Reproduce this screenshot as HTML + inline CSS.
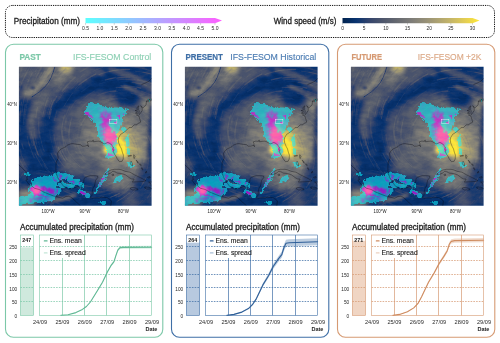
<!DOCTYPE html>
<html><head><meta charset="utf-8"><title>Ensemble storylines</title>
<style>html,body{margin:0;padding:0;background:#fff;}svg{display:block;font-family:"Liberation Sans", sans-serif;will-change:transform;}</style>
</head><body>
<svg width="500" height="343" viewBox="0 0 500 343">
<defs>
<linearGradient id="gp" x1="0" x2="1" y1="0" y2="0"><stop offset="0" stop-color="#5cffff"/><stop offset="0.5" stop-color="#acacff"/><stop offset="1" stop-color="#ff5cff"/></linearGradient>
<linearGradient id="gw" x1="0" x2="1" y1="0" y2="0"><stop offset="0.0" stop-color="#00224e"/><stop offset="0.1" stop-color="#083370"/><stop offset="0.2" stop-color="#35456c"/><stop offset="0.3" stop-color="#4f576c"/><stop offset="0.4" stop-color="#666970"/><stop offset="0.5" stop-color="#7d7c78"/><stop offset="0.6" stop-color="#948e77"/><stop offset="0.7" stop-color="#aea371"/><stop offset="0.8" stop-color="#c8b866"/><stop offset="0.9" stop-color="#e5cf52"/><stop offset="1.0" stop-color="#fee838"/></linearGradient>
<clipPath id="mclip"><rect x="0" y="0" width="132.7" height="138.9"/></clipPath>
<filter id="b0_4" filterUnits="userSpaceOnUse" x="-30" y="-30" width="195" height="200" color-interpolation-filters="sRGB"><feGaussianBlur stdDeviation="0.4"/></filter><filter id="b0_5" filterUnits="userSpaceOnUse" x="-30" y="-30" width="195" height="200" color-interpolation-filters="sRGB"><feGaussianBlur stdDeviation="0.5"/></filter><filter id="b0_6" filterUnits="userSpaceOnUse" x="-30" y="-30" width="195" height="200" color-interpolation-filters="sRGB"><feGaussianBlur stdDeviation="0.6"/></filter><filter id="b0_7" filterUnits="userSpaceOnUse" x="-30" y="-30" width="195" height="200" color-interpolation-filters="sRGB"><feGaussianBlur stdDeviation="0.7"/></filter><filter id="b0_8" filterUnits="userSpaceOnUse" x="-30" y="-30" width="195" height="200" color-interpolation-filters="sRGB"><feGaussianBlur stdDeviation="0.8"/></filter><filter id="b0_9" filterUnits="userSpaceOnUse" x="-30" y="-30" width="195" height="200" color-interpolation-filters="sRGB"><feGaussianBlur stdDeviation="0.9"/></filter><filter id="b1" filterUnits="userSpaceOnUse" x="-30" y="-30" width="195" height="200" color-interpolation-filters="sRGB"><feGaussianBlur stdDeviation="1.0"/></filter><filter id="b1_1" filterUnits="userSpaceOnUse" x="-30" y="-30" width="195" height="200" color-interpolation-filters="sRGB"><feGaussianBlur stdDeviation="1.1"/></filter><filter id="b1_2" filterUnits="userSpaceOnUse" x="-30" y="-30" width="195" height="200" color-interpolation-filters="sRGB"><feGaussianBlur stdDeviation="1.2"/></filter><filter id="b1_3" filterUnits="userSpaceOnUse" x="-30" y="-30" width="195" height="200" color-interpolation-filters="sRGB"><feGaussianBlur stdDeviation="1.3"/></filter><filter id="b1_4" filterUnits="userSpaceOnUse" x="-30" y="-30" width="195" height="200" color-interpolation-filters="sRGB"><feGaussianBlur stdDeviation="1.4"/></filter><filter id="b1_5" filterUnits="userSpaceOnUse" x="-30" y="-30" width="195" height="200" color-interpolation-filters="sRGB"><feGaussianBlur stdDeviation="1.5"/></filter><filter id="b1_6" filterUnits="userSpaceOnUse" x="-30" y="-30" width="195" height="200" color-interpolation-filters="sRGB"><feGaussianBlur stdDeviation="1.6"/></filter><filter id="b1_8" filterUnits="userSpaceOnUse" x="-30" y="-30" width="195" height="200" color-interpolation-filters="sRGB"><feGaussianBlur stdDeviation="1.8"/></filter><filter id="b2" filterUnits="userSpaceOnUse" x="-30" y="-30" width="195" height="200" color-interpolation-filters="sRGB"><feGaussianBlur stdDeviation="2.0"/></filter><filter id="b2_2" filterUnits="userSpaceOnUse" x="-30" y="-30" width="195" height="200" color-interpolation-filters="sRGB"><feGaussianBlur stdDeviation="2.2"/></filter><filter id="b2_5" filterUnits="userSpaceOnUse" x="-30" y="-30" width="195" height="200" color-interpolation-filters="sRGB"><feGaussianBlur stdDeviation="2.5"/></filter><filter id="b2_6" filterUnits="userSpaceOnUse" x="-30" y="-30" width="195" height="200" color-interpolation-filters="sRGB"><feGaussianBlur stdDeviation="2.6"/></filter><filter id="b3" filterUnits="userSpaceOnUse" x="-30" y="-30" width="195" height="200" color-interpolation-filters="sRGB"><feGaussianBlur stdDeviation="3"/></filter><filter id="b3_5" filterUnits="userSpaceOnUse" x="-30" y="-30" width="195" height="200" color-interpolation-filters="sRGB"><feGaussianBlur stdDeviation="3.5"/></filter><filter id="b4" filterUnits="userSpaceOnUse" x="-30" y="-30" width="195" height="200" color-interpolation-filters="sRGB"><feGaussianBlur stdDeviation="4"/></filter><filter id="b4_5" filterUnits="userSpaceOnUse" x="-30" y="-30" width="195" height="200" color-interpolation-filters="sRGB"><feGaussianBlur stdDeviation="4.5"/></filter><filter id="b5" filterUnits="userSpaceOnUse" x="-30" y="-30" width="195" height="200" color-interpolation-filters="sRGB"><feGaussianBlur stdDeviation="5"/></filter><filter id="b7" filterUnits="userSpaceOnUse" x="-30" y="-30" width="195" height="200" color-interpolation-filters="sRGB"><feGaussianBlur stdDeviation="7"/></filter>
<filter id="fw" filterUnits="userSpaceOnUse" x="0" y="0" width="132.7" height="138.9" color-interpolation-filters="sRGB">
<feTurbulence type="fractalNoise" baseFrequency="0.11 0.2" numOctaves="3" seed="11" result="t"/>
<feColorMatrix in="t" type="matrix" values="2.2 0 0 0 -0.6  2.2 0 0 0 -0.6  2.2 0 0 0 -0.6  0 0 0 0 1" result="tg"/>
<feComposite in="SourceGraphic" in2="tg" operator="arithmetic" k1="0.13" k2="0.935" k3="0.04" k4="-0.02" result="m"/>
<feComponentTransfer in="m"><feFuncR type="table" tableValues="0.000 0.031 0.208 0.310 0.400 0.490 0.580 0.682 0.784 0.898 0.996"/><feFuncG type="table" tableValues="0.133 0.200 0.271 0.341 0.412 0.486 0.557 0.639 0.722 0.812 0.910"/><feFuncB type="table" tableValues="0.306 0.439 0.424 0.424 0.439 0.471 0.467 0.443 0.400 0.322 0.220"/></feComponentTransfer>
</filter>
<filter id="fp" filterUnits="userSpaceOnUse" x="0" y="0" width="132.7" height="138.9" color-interpolation-filters="sRGB">
<feTurbulence type="fractalNoise" baseFrequency="0.28" numOctaves="2" seed="5" result="t"/>
<feDisplacementMap in="SourceGraphic" in2="t" scale="4.5" xChannelSelector="R" yChannelSelector="G" result="d"/>
<feTurbulence type="fractalNoise" baseFrequency="0.2" numOctaves="2" seed="9" result="t2"/>
<feColorMatrix in="t2" type="matrix" values="0 0 0 0 1  0 0 0 0 1  0 0 0 0 1  2.6 0 0 0 -0.8" result="n2"/>
<feComposite in="d" in2="n2" operator="arithmetic" k1="0.36" k2="0.82" k3="0" k4="0" result="dn"/>
<feColorMatrix in="dn" type="matrix" values="0 0 0 1 0  0 0 0 1 0  0 0 0 1 0  0 0 0 0 1" result="g"/>
<feComponentTransfer in="g" result="c">
<feFuncR type="table" tableValues="0 0 0 0.08 0.4 0.75 0.93 1 1 1 1"/>
<feFuncG type="table" tableValues="1 1 1 0.92 0.6 0.28 0.1 0.02 0 0 0"/>
<feFuncB type="table" tableValues="1 1 1 1 1 1 1 1 1 1 1"/>
</feComponentTransfer>
<feComponentTransfer in="dn" result="a"><feFuncA type="table" tableValues="0 0.05 0.54 0.56 0.58 0.58 0.57 0.57 0.57 0.57 0.57"/></feComponentTransfer>
<feComposite in="c" in2="a" operator="in"/>
</filter>
<g id="mw"><g clip-path="url(#mclip)">
<g filter="url(#fw)">
<rect x="-5" y="-5" width="142.7" height="148.9" fill="#1f1f1f"/>
<path d="M62 32L80 26L100 30L118 40L138 36L138 100L118 112L100 124L84 120L70 108L52 104L40 96L35 84L35 68L39 54L47 42Z" fill="#4c4c4c" opacity="1" filter="url(#b4)"/>
<path d="M66 40L84 32L100 32L118 42L138 38L138 98L116 110L100 120L84 116L70 104L56 98L52 84L54 64L58 50Z" fill="#5e5e5e" opacity="1" filter="url(#b5)"/>
<ellipse cx="95" cy="72" rx="22" ry="25" fill="#7a7a7a" opacity="1" filter="url(#b7)"/>
<path d="M-8 -8H52L66 4L60 14L44 26L30 38L20 50L14 40L-8 30Z" fill="#4c4c4c" opacity="1" filter="url(#b4)"/>
<ellipse cx="60" cy="8" rx="12" ry="7" fill="#545454" opacity="1" filter="url(#b4)"/>
<ellipse cx="46.5" cy="1.5" rx="7" ry="6.5" fill="#bdbdbd" opacity="1" filter="url(#b2_5)"/>
<ellipse cx="40" cy="12" rx="7" ry="6" fill="#7a7a7a" opacity="1" filter="url(#b3)"/>
<path d="M8 27Q18 22 23.5 15.5T32 1" fill="none" stroke="#8f8f8f" stroke-width="6.5" stroke-linecap="round" stroke-linejoin="round" opacity="1" filter="url(#b2)"/>
<path d="M13.3 30Q22 25 27.3 18.7T36 0" fill="none" stroke="#242424" stroke-width="1.0" stroke-linecap="round" stroke-linejoin="round" opacity="1" filter="url(#b0_5)"/>
<ellipse cx="2.2" cy="21.2" rx="2.0" ry="3.0" fill="#212121" opacity="1" transform="rotate(25 2.2 21.2)" filter="url(#b1_2)"/>
<ellipse cx="14" cy="21" rx="2.5" ry="1.8" fill="#242424" opacity="1" transform="rotate(-30 14 21)" filter="url(#b1_1)"/>
<ellipse cx="4" cy="40" rx="9" ry="9" fill="#1a1a1a" opacity="1" filter="url(#b3)"/>
<path d="M100 -3Q88 14 60 27T33 52T28 92" fill="none" stroke="#141414" stroke-width="7.5" stroke-linecap="round" stroke-linejoin="round" opacity="1" filter="url(#b2_6)"/>
<path d="M24 30Q17 40 18 56" fill="none" stroke="#616161" stroke-width="8" stroke-linecap="round" stroke-linejoin="round" opacity="1" filter="url(#b2_5)"/>
<ellipse cx="100" cy="12" rx="22" ry="13" fill="#121212" opacity="1" filter="url(#b4)"/>
<ellipse cx="109" cy="32.5" rx="14" ry="7.5" fill="#121212" opacity="1" transform="rotate(10 109 32.5)" filter="url(#b3)"/>
<path d="M92 3L112 9L134 22" fill="none" stroke="#5e5e5e" stroke-width="4.5" stroke-linecap="round" stroke-linejoin="round" opacity="1" filter="url(#b2)"/>
<path d="M66 2L84 6" fill="none" stroke="#4c4c4c" stroke-width="6" stroke-linecap="round" stroke-linejoin="round" opacity="1" filter="url(#b2_5)"/>
<ellipse cx="128" cy="38" rx="8" ry="9" fill="#808080" opacity="1" filter="url(#b3)"/>
<path d="M106 20L124 28" fill="none" stroke="#595959" stroke-width="3" stroke-linecap="round" stroke-linejoin="round" opacity="1" filter="url(#b1_5)"/>
<ellipse cx="8" cy="70" rx="16" ry="22" fill="#1a1a1a" opacity="1" filter="url(#b5)"/>
<path d="M15 46Q9 56 15 68" fill="none" stroke="#5c5c5c" stroke-width="7" stroke-linecap="round" stroke-linejoin="round" opacity="1" filter="url(#b2_5)"/>
<ellipse cx="47" cy="62" rx="11" ry="17" fill="#454545" opacity="1" filter="url(#b5)"/>
<ellipse cx="56" cy="86" rx="12" ry="9" fill="#545454" opacity="1" filter="url(#b5)"/>
<ellipse cx="30" cy="102" rx="24" ry="10" fill="#171717" opacity="1" filter="url(#b5)"/>
<ellipse cx="3" cy="100" rx="4" ry="10" fill="#474747" opacity="1" filter="url(#b3)"/>
<ellipse cx="54" cy="99" rx="13" ry="7" fill="#636363" opacity="1" filter="url(#b4)"/>
<ellipse cx="73" cy="97" rx="8" ry="6" fill="#454545" opacity="1" filter="url(#b3)"/>
<ellipse cx="66" cy="91" rx="11" ry="8" fill="#595959" opacity="1" filter="url(#b5)"/>
<ellipse cx="74" cy="80" rx="13" ry="9" fill="#6e6e6e" opacity="1" filter="url(#b5)"/>
<ellipse cx="73" cy="68" rx="9" ry="9" fill="#808080" opacity="1" filter="url(#b4)"/>
<ellipse cx="107" cy="83" rx="22" ry="30" fill="#999999" opacity="1" transform="rotate(-10 107 83)" filter="url(#b7)"/>
<ellipse cx="104.5" cy="82" rx="12" ry="19" fill="#cccccc" opacity="1" transform="rotate(-10 104.5 82)" filter="url(#b4)"/>
<ellipse cx="102.4" cy="83.5" rx="5.2" ry="13" fill="#f7f7f7" opacity="1" transform="rotate(-10 102.4 83.5)" filter="url(#b1_6)"/>
<ellipse cx="102.4" cy="83.5" rx="3.5" ry="11.5" fill="#ffffff" opacity="1" transform="rotate(-10 102.4 83.5)" filter="url(#b0_7)"/>
<ellipse cx="88.5" cy="82" rx="4.5" ry="5" fill="#e6e6e6" opacity="1" filter="url(#b1_8)"/>
<ellipse cx="91.5" cy="68.5" rx="7" ry="9" fill="#f7f7f7" opacity="1" filter="url(#b2_2)"/>
<path d="M96 90L108 90L117 122L92 122Z" fill="#6e6e6e" opacity="1" filter="url(#b3_5)"/>
<path d="M98.7 94L94 122" fill="none" stroke="#808080" stroke-width="1.2" stroke-linecap="round" stroke-linejoin="round" opacity="0.7" filter="url(#b0_8)"/>
<path d="M100.3 94L99 122" fill="none" stroke="#878787" stroke-width="1.0" stroke-linecap="round" stroke-linejoin="round" opacity="0.7" filter="url(#b0_8)"/>
<path d="M102.0 94L104 122" fill="none" stroke="#808080" stroke-width="1.4" stroke-linecap="round" stroke-linejoin="round" opacity="0.7" filter="url(#b0_8)"/>
<path d="M104.0 94L110 122" fill="none" stroke="#828282" stroke-width="1.1" stroke-linecap="round" stroke-linejoin="round" opacity="0.7" filter="url(#b0_8)"/>
<path d="M105.3 94L114 122" fill="none" stroke="#757575" stroke-width="1.0" stroke-linecap="round" stroke-linejoin="round" opacity="0.7" filter="url(#b0_8)"/>
<path d="M133 40Q129.5 80 131.5 120" fill="none" stroke="#242424" stroke-width="4.2" stroke-linecap="round" stroke-linejoin="round" opacity="1" filter="url(#b1_8)"/>
<ellipse cx="127" cy="118" rx="10" ry="24" fill="#262626" opacity="1" filter="url(#b4_5)"/>
<ellipse cx="90" cy="136" rx="12" ry="9" fill="#141414" opacity="1" filter="url(#b4)"/>
<ellipse cx="62" cy="137" rx="26" ry="7" fill="#171717" opacity="1" filter="url(#b4)"/>
<ellipse cx="112" cy="134" rx="8" ry="8" fill="#4c4c4c" opacity="1" filter="url(#b4)"/>
<g fill="none" stroke-linecap="round" stroke-linejoin="round" filter="url(#b0_5)"><path d="M46.2 12.3L44.6 14.2L43.1 16.2L41.6 18.2L40.1 20.2L38.7 22.2L37.3 24.3" stroke="#a3a3a3" stroke-width="0.6" opacity="0.12"/><path d="M74.0 -2.1L71.7 -1.0L69.5 0.2L67.4 1.5L65.2 2.8L63.1 4.1L61.1 5.5" stroke="#909090" stroke-width="1.2" opacity="0.13"/><path d="M15.9 21.7L15.0 24.1L14.2 26.4L13.4 28.8L12.7 31.2L12.0 33.6L11.3 36.0" stroke="#141414" stroke-width="1.4" opacity="0.08"/><path d="M2.1 117.1L2.1 119.6L2.6 122.1L3.0 124.6L3.8 126.9" stroke="#919191" stroke-width="1.2" opacity="0.06"/><path d="M19.3 74.3L19.9 76.7L20.6 79.1L21.4 81.4L22.2 83.8L23.1 86.1L24.1 88.5" stroke="#a4a4a4" stroke-width="0.6" opacity="0.09"/><path d="M21.3 89.4L22.4 91.6L23.7 93.8L25.0 96.0L26.3 98.1L27.7 100.2L29.1 102.2" stroke="#a6a6a6" stroke-width="0.8" opacity="0.13"/><path d="M105.0 102.9L106.5 100.8L107.8 98.7L109.0 96.5L110.1 94.3" stroke="#a3a3a3" stroke-width="1.2" opacity="0.11"/><path d="M32.0 137.9L34.2 139.0L36.5 140.0L38.8 141.0L41.1 142.0" stroke="#adadad" stroke-width="0.9" opacity="0.10"/><path d="M-2.5 85.0L-1.6 87.3L-0.6 89.6L0.4 91.9L1.5 94.2L2.6 96.4L3.8 98.6L5.0 100.8L6.3 102.9" stroke="#b2b2b2" stroke-width="1.1" opacity="0.12"/><path d="M99.2 2.9L96.8 3.3L94.3 3.7L91.9 4.3L89.4 4.9L87.0 5.5L84.6 6.2L82.3 7.0L79.9 7.9" stroke="#b7b7b7" stroke-width="0.8" opacity="0.18"/><path d="M48.7 92.3L50.3 94.2L51.9 96.2" stroke="#949494" stroke-width="0.6" opacity="0.09"/><path d="M109.1 15.0L106.6 14.9L104.1 15.0L101.6 15.1L99.1 15.2" stroke="#b2b2b2" stroke-width="0.9" opacity="0.09"/><path d="M63.4 124.8L65.8 125.2L68.3 125.5L70.8 125.7L73.3 125.8L75.8 125.8L78.3 125.8L80.8 125.6L83.3 125.3" stroke="#0c0c0c" stroke-width="0.8" opacity="0.08"/><path d="M116.8 140.1L118.6 138.4L120.4 136.7L122.2 134.9L123.9 133.1" stroke="#969696" stroke-width="0.9" opacity="0.11"/><path d="M81.1 33.4L78.9 34.6L76.7 35.8" stroke="#9c9c9c" stroke-width="1.4" opacity="0.15"/><path d="M97.3 129.8L99.5 128.6L101.7 127.3L103.7 126.0L105.7 124.5L107.8 123.0L109.7 121.4L111.5 119.7L113.3 117.9" stroke="#9e9e9e" stroke-width="1.1" opacity="0.09"/><path d="M6.9 1.4L5.8 3.6L4.8 5.9L3.7 8.2L2.7 10.4" stroke="#9b9b9b" stroke-width="0.5" opacity="0.09"/><path d="M19.7 6.5L18.5 8.7L17.3 10.9L16.1 13.1L15.0 15.4" stroke="#b2b2b2" stroke-width="0.6" opacity="0.15"/><path d="M32.7 42.2L32.1 44.6L31.5 47.0L30.9 49.5L30.5 51.9" stroke="#b1b1b1" stroke-width="0.9" opacity="0.20"/><path d="M66.1 7.2L64.1 8.6L62.0 10.0" stroke="#989898" stroke-width="0.6" opacity="0.18"/><path d="M-6.3 130.7L-4.5 132.4L-2.7 134.1L-0.8 135.7L1.2 137.3L3.3 138.6L5.5 139.7" stroke="#a4a4a4" stroke-width="1.0" opacity="0.05"/><path d="M128.4 131.3L129.8 129.3L131.2 127.2L132.5 125.0L133.7 122.8L134.9 120.6L136.0 118.4L137.0 116.1L138.0 113.8" stroke="#9c9c9c" stroke-width="1.2" opacity="0.10"/><path d="M66.1 109.2L68.5 109.9L70.9 110.4L73.4 111.0L75.9 111.3" stroke="#afafaf" stroke-width="1.3" opacity="0.20"/><path d="M101.8 122.7L103.8 121.2L105.8 119.6L107.6 118.0L109.4 116.2L111.2 114.4L112.9 112.6L114.4 110.6L115.9 108.6" stroke="#a3a3a3" stroke-width="0.5" opacity="0.12"/><path d="M0.8 32.1L0.3 34.6L-0.1 37.0L-0.5 39.5L-0.8 42.0" stroke="#b6b6b6" stroke-width="1.3" opacity="0.13"/><path d="M132.1 140.3L133.6 138.3L135.0 136.3L136.5 134.3L137.9 132.2" stroke="#969696" stroke-width="0.7" opacity="0.10"/><path d="M73.9 129.4L76.4 129.3L78.9 129.1L81.4 128.7L83.8 128.3L86.3 127.8L88.7 127.2L91.1 126.5L93.4 125.7" stroke="#a9a9a9" stroke-width="0.6" opacity="0.18"/><path d="M79.2 131.9L81.7 131.5L84.1 131.0L86.5 130.4L88.9 129.6L91.3 128.9L93.7 128.1L96.0 127.2L98.3 126.1" stroke="#111111" stroke-width="1.2" opacity="0.06"/><path d="M33.3 105.5L35.1 107.3L36.9 109.0L38.8 110.6L40.8 112.2L42.8 113.6L44.8 115.1L46.9 116.5L49.0 117.8L51.2 119.0L53.5 120.1" stroke="#9e9e9e" stroke-width="1.2" opacity="0.19"/><path d="M22.3 10.2L21.1 12.4L19.9 14.7L18.8 16.9L17.7 19.1" stroke="#1a1a1a" stroke-width="1.2" opacity="0.06"/><path d="M133.6 97.5L133.8 95.1L133.9 92.6L134.0 90.1L134.0 87.6" stroke="#929292" stroke-width="1.4" opacity="0.08"/><path d="M27.5 28.3L26.6 30.6L25.7 33.0L24.8 35.3L24.0 37.7" stroke="#a6a6a6" stroke-width="0.9" opacity="0.11"/><path d="M48.1 128.4L50.4 129.3L52.8 130.1L55.2 130.8L57.6 131.5L60.0 132.1L62.5 132.6" stroke="#a3a3a3" stroke-width="0.9" opacity="0.08"/><path d="M27.8 -11.4L26.2 -9.4L24.7 -7.5L23.2 -5.5L21.8 -3.4L20.3 -1.4L18.9 0.7L17.6 2.8L16.3 4.9" stroke="#a1a1a1" stroke-width="1.0" opacity="0.17"/><path d="M41.1 64.7L41.3 67.2L41.5 69.7L41.9 72.1L42.2 74.6L42.7 77.1L43.4 79.5" stroke="#080808" stroke-width="0.7" opacity="0.09"/><path d="M29.7 104.1L31.4 105.9L33.2 107.7L35.0 109.4L36.8 111.2L38.6 112.8L40.6 114.4" stroke="#adadad" stroke-width="0.9" opacity="0.10"/><path d="M53.5 132.3L55.9 133.0L58.3 133.5L60.8 134.0L63.3 134.3L65.7 134.7L68.2 134.9L70.7 135.1L73.2 135.1" stroke="#1d1d1d" stroke-width="1.0" opacity="0.07"/><path d="M126.1 123.7L127.5 121.6L128.7 119.4L130.0 117.2L131.1 115.0" stroke="#9f9f9f" stroke-width="0.7" opacity="0.09"/><path d="M2.1 85.3L3.1 87.6L4.1 89.9L5.2 92.1L6.3 94.3L7.4 96.6L8.6 98.8L9.9 100.9L11.2 103.0" stroke="#090909" stroke-width="1.1" opacity="0.10"/><path d="M54.7 140.1L57.1 140.5L59.6 140.9L62.1 141.2L64.6 141.4L67.0 141.6L69.5 141.7L72.0 141.7L74.5 141.7" stroke="#9f9f9f" stroke-width="0.8" opacity="0.14"/><path d="M26.3 33.2L25.5 35.5L24.7 37.9L24.1 40.4L23.5 42.8L23.0 45.2L22.5 47.7L22.1 50.1L21.8 52.6" stroke="#a4a4a4" stroke-width="0.5" opacity="0.13"/><path d="M39.5 80.8L40.4 83.2L41.5 85.4L42.6 87.7L43.8 89.9L45.1 92.0L46.5 94.1" stroke="#b7b7b7" stroke-width="1.4" opacity="0.17"/><path d="M11.3 32.6L10.7 35.0L10.2 37.4" stroke="#0c0c0c" stroke-width="0.9" opacity="0.06"/><path d="M121.6 120.5L123.0 118.5L124.2 116.3L125.5 114.2L126.7 112.0" stroke="#b4b4b4" stroke-width="1.1" opacity="0.15"/><path d="M13.4 -4.3L12.2 -2.1L10.9 0.0L9.7 2.2L8.6 4.5L7.4 6.7L6.4 8.9L5.3 11.2L4.3 13.5" stroke="#8f8f8f" stroke-width="1.1" opacity="0.19"/><path d="M118.8 9.0L116.3 8.7L113.8 8.5L111.3 8.3L108.8 8.3L106.3 8.3L103.8 8.3L101.3 8.4L98.8 8.6" stroke="#b2b2b2" stroke-width="0.8" opacity="0.13"/><path d="M68.8 132.1L71.3 132.2L73.8 132.1L76.3 132.1L78.8 131.9" stroke="#a3a3a3" stroke-width="0.6" opacity="0.11"/><path d="M21.4 -0.8L20.0 1.3L18.7 3.4L17.4 5.5L16.2 7.7" stroke="#999999" stroke-width="0.8" opacity="0.17"/><path d="M70.4 19.2L68.4 20.6L66.4 22.1L64.4 23.6L62.4 25.2" stroke="#979797" stroke-width="1.2" opacity="0.08"/><path d="M80.1 20.3L77.9 21.4L75.7 22.6L73.5 23.8L71.4 25.1L69.3 26.5L67.3 27.9" stroke="#080808" stroke-width="0.9" opacity="0.11"/><path d="M58.4 116.5L60.8 117.3L63.2 118.0L65.6 118.6L68.1 119.2L70.5 119.6L73.0 119.9" stroke="#aaaaaa" stroke-width="0.8" opacity="0.20"/><path d="M109.4 106.3L110.8 104.3L112.0 102.1L113.1 99.8L114.2 97.6L115.1 95.2L115.8 92.8" stroke="#9b9b9b" stroke-width="0.6" opacity="0.05"/><path d="M6.3 101.0L7.7 103.1L6.0 104.8L4.2 106.6L2.7 108.6" stroke="#909090" stroke-width="1.3" opacity="0.10"/><path d="M95.3 36.5L92.8 36.9L90.3 37.4L87.9 38.0L85.5 38.6" stroke="#a0a0a0" stroke-width="0.9" opacity="0.10"/><path d="M25.0 144.2L26.8 142.5L28.4 140.5L29.8 138.4L32.0 139.6L33.0 137.3L34.1 135.0L34.8 132.6L35.3 130.2L35.5 127.7L35.3 125.2" stroke="#979797" stroke-width="0.8" opacity="0.11"/><path d="M49.9 -7.2L48.0 -5.5L46.2 -3.8L44.3 -2.1L42.5 -0.4" stroke="#a2a2a2" stroke-width="1.0" opacity="0.10"/><path d="M-2.9 32.3L-3.3 34.8L-3.7 37.3" stroke="#8e8e8e" stroke-width="0.8" opacity="0.08"/><path d="M26.5 74.9L27.2 77.3L27.9 79.7L28.8 82.0L29.6 84.4L30.5 86.7L31.6 89.0" stroke="#161616" stroke-width="1.3" opacity="0.10"/><path d="M57.4 33.4L55.9 35.3L54.5 37.4L53.2 39.5L51.9 41.7L50.8 43.9L49.7 46.1L48.7 48.4L47.7 50.8L47.0 53.1L46.3 55.5" stroke="#acacac" stroke-width="0.5" opacity="0.16"/><path d="M107.8 131.9L109.8 130.4L111.7 128.7L113.5 127.0L115.3 125.3L117.1 123.5L118.8 121.7" stroke="#1a1a1a" stroke-width="1.0" opacity="0.06"/><path d="M57.4 115.9L59.7 116.8L62.1 117.5L64.5 118.1L67.0 118.7L69.4 119.2L71.9 119.5L74.4 119.8L76.9 119.9" stroke="#141414" stroke-width="1.1" opacity="0.11"/><path d="M96.0 29.4L93.6 29.8L91.1 30.2" stroke="#9c9c9c" stroke-width="1.3" opacity="0.09"/><path d="M69.3 83.0L70.8 84.9L72.6 86.7L74.6 88.2L76.6 89.7L78.8 90.9L81.1 91.8" stroke="#a1a1a1" stroke-width="1.2" opacity="0.05"/><path d="M34.5 2.9L32.9 4.9L31.5 6.9L30.0 9.0L28.6 11.0" stroke="#0a0a0a" stroke-width="1.4" opacity="0.10"/><path d="M70.0 46.2L68.4 48.1L66.9 50.1L65.5 52.2L64.1 54.3L62.9 56.5L61.9 58.7" stroke="#adadad" stroke-width="1.1" opacity="0.15"/><path d="M8.7 13.0L7.8 15.3L6.9 17.7L6.0 20.0L5.2 22.3" stroke="#0d0d0d" stroke-width="0.5" opacity="0.09"/><path d="M6.9 25.8L6.2 28.2L5.6 30.6L5.0 33.0L4.5 35.5L4.0 37.9L3.6 40.4L3.3 42.9L3.0 45.4" stroke="#aaaaaa" stroke-width="1.0" opacity="0.11"/><path d="M62.5 59.6L61.9 62.1L61.4 64.5L60.9 67.0L60.6 69.4" stroke="#0a0a0a" stroke-width="1.3" opacity="0.07"/><path d="M-2.3 53.5L-2.2 56.0L-2.0 58.4L-1.8 60.9L-1.5 63.4L-1.3 65.9L-0.9 68.4L-0.5 70.8L-0.0 73.3" stroke="#111111" stroke-width="0.7" opacity="0.07"/><path d="M135.8 30.1L133.6 29.0L131.3 27.9L129.0 27.0L126.7 26.0L124.4 25.1L122.0 24.3" stroke="#a3a3a3" stroke-width="0.6" opacity="0.19"/><path d="M115.6 79.8L114.9 77.4L113.9 75.1L112.8 72.8L111.4 70.7L110.0 68.6L108.5 66.7L106.7 64.9L104.8 63.3" stroke="#0b0b0b" stroke-width="0.9" opacity="0.07"/><path d="M3.0 -10.1L1.8 -7.9L0.6 -5.7L-0.5 -3.5L-1.6 -1.2L-2.7 1.0L-3.8 3.3" stroke="#999999" stroke-width="0.8" opacity="0.10"/><path d="M38.4 118.1L40.5 119.4L42.6 120.8" stroke="#1a1a1a" stroke-width="1.3" opacity="0.06"/><path d="M91.7 130.4L94.1 129.5L96.3 128.4L98.6 127.4L100.8 126.2" stroke="#9d9d9d" stroke-width="1.0" opacity="0.20"/><path d="M47.7 54.0L47.2 56.4L46.8 58.9L46.4 61.3L46.1 63.8" stroke="#919191" stroke-width="0.8" opacity="0.18"/><path d="M132.1 34.9L129.9 33.7L127.6 32.6L125.4 31.5L123.1 30.6" stroke="#949494" stroke-width="1.4" opacity="0.12"/><path d="M116.0 121.3L117.6 119.4L119.0 117.4L120.4 115.3L121.8 113.2L123.1 111.0L124.2 108.8" stroke="#1d1d1d" stroke-width="1.1" opacity="0.09"/><path d="M-0.9 97.1L0.3 99.3L1.6 101.5L3.0 103.6L4.3 105.7L2.7 107.6L1.3 109.7" stroke="#161616" stroke-width="0.5" opacity="0.07"/><path d="M133.6 16.9L131.2 16.1L128.8 15.4L126.4 14.7L124.0 14.0L121.6 13.4L119.1 12.9" stroke="#999999" stroke-width="1.4" opacity="0.17"/><path d="M30.2 88.0L31.3 90.2L32.6 92.4L33.9 94.5L35.2 96.6" stroke="#9d9d9d" stroke-width="0.6" opacity="0.10"/><path d="M21.6 135.5L23.3 133.6L24.5 131.5L25.2 129.1L26.0 126.7L26.1 124.2L25.6 121.8" stroke="#b4b4b4" stroke-width="0.9" opacity="0.11"/><path d="M16.5 21.9L15.6 24.3L14.7 26.6" stroke="#909090" stroke-width="0.7" opacity="0.11"/><path d="M66.2 126.0L68.7 126.2L71.1 126.4L73.6 126.4L76.1 126.3L78.6 126.3L81.1 126.1L83.6 125.7L86.1 125.3" stroke="#9e9e9e" stroke-width="0.8" opacity="0.14"/><path d="M47.0 1.5L45.3 3.3L43.6 5.1L41.9 6.9L40.2 8.8" stroke="#080808" stroke-width="1.1" opacity="0.09"/><path d="M122.2 29.1L119.8 28.4L117.4 27.7L115.0 27.1L112.5 26.6" stroke="#9e9e9e" stroke-width="1.4" opacity="0.13"/><path d="M113.7 126.0L115.4 124.2L117.1 122.4" stroke="#ababab" stroke-width="0.9" opacity="0.19"/><path d="M85.6 -6.6L83.3 -5.8L80.9 -4.9L78.6 -4.0L76.3 -3.0L74.0 -2.0L71.8 -0.9" stroke="#1a1a1a" stroke-width="1.4" opacity="0.11"/><path d="M33.8 7.9L32.3 9.9L31.0 12.0L29.6 14.1L28.3 16.2" stroke="#aaaaaa" stroke-width="1.1" opacity="0.19"/><path d="M79.7 109.6L82.2 109.4L84.7 109.0L87.1 108.3L89.5 107.7L91.9 107.0L94.2 106.0" stroke="#8e8e8e" stroke-width="0.7" opacity="0.10"/><path d="M125.0 95.8L125.3 93.3L125.4 90.8L125.6 88.3L125.6 85.8" stroke="#979797" stroke-width="1.1" opacity="0.16"/><path d="M15.4 -0.2L14.1 1.9L12.9 4.1L11.8 6.3L10.6 8.6L9.5 10.8L8.5 13.1" stroke="#9d9d9d" stroke-width="1.0" opacity="0.11"/><path d="M-1.4 32.9L-1.9 35.3L-2.2 37.8L-2.5 40.3L-2.8 42.8L-3.1 45.3L-3.3 47.8" stroke="#161616" stroke-width="0.9" opacity="0.11"/><path d="M34.5 21.0L33.2 23.2L32.1 25.4L31.0 27.7L30.0 30.0L29.0 32.3L28.1 34.6L27.2 37.0L26.4 39.3L25.7 41.7L25.1 44.1" stroke="#0d0d0d" stroke-width="0.9" opacity="0.05"/><path d="M95.9 57.3L93.4 57.4L90.9 57.7L88.4 58.0L86.0 58.7" stroke="#b4b4b4" stroke-width="0.5" opacity="0.06"/><path d="M45.8 48.0L45.1 50.4L44.5 52.9L43.9 55.3L43.6 57.8L43.2 60.3L42.9 62.7L42.8 65.2L42.8 67.7" stroke="#afafaf" stroke-width="1.0" opacity="0.17"/><path d="M21.1 141.7L23.1 140.2L24.9 138.5L26.7 136.7L28.2 134.7" stroke="#0b0b0b" stroke-width="1.2" opacity="0.04"/><path d="M32.3 136.1L34.6 137.2L35.2 134.8L37.5 135.8L39.8 136.9L42.0 137.9L44.4 138.8" stroke="#969696" stroke-width="1.1" opacity="0.13"/><path d="M136.5 20.1L134.2 19.2L131.9 18.3L129.5 17.5L127.1 16.7L124.7 16.0L122.3 15.3" stroke="#b6b6b6" stroke-width="0.5" opacity="0.10"/><path d="M5.0 43.8L4.7 46.3L4.6 48.8L4.5 51.3L4.5 53.8L4.4 56.3L4.5 58.8L4.6 61.3L4.8 63.8" stroke="#181818" stroke-width="1.3" opacity="0.12"/><path d="M48.4 15.3L46.8 17.2L45.2 19.2L43.7 21.2L42.3 23.3L40.9 25.3L39.6 27.4L38.3 29.6L37.1 31.8" stroke="#060606" stroke-width="0.8" opacity="0.10"/><path d="M50.8 40.2L49.6 42.5L48.6 44.7L47.6 47.0L46.6 49.3" stroke="#989898" stroke-width="1.4" opacity="0.12"/><path d="M8.4 137.5L10.9 137.8L13.4 137.7L15.9 137.5L18.3 137.0" stroke="#b0b0b0" stroke-width="0.9" opacity="0.10"/><path d="M2.4 60.6L2.6 63.1L2.9 65.6L3.2 68.0L3.6 70.5" stroke="#0a0a0a" stroke-width="1.3" opacity="0.08"/><path d="M0.3 46.4L0.2 48.8L0.2 51.3L0.2 53.8L0.3 56.3L0.3 58.8L0.5 61.3L0.7 63.8L1.0 66.3" stroke="#060606" stroke-width="0.6" opacity="0.05"/><path d="M134.3 38.5L132.1 37.2L130.0 35.9L127.7 34.8L125.5 33.8L123.2 32.7L120.9 31.8L118.5 30.9L116.1 30.2" stroke="#0e0e0e" stroke-width="1.4" opacity="0.07"/><path d="M92.3 31.5L89.9 32.0L87.5 32.7L85.1 33.6L82.8 34.5L80.5 35.5L78.2 36.5L76.1 37.8L73.9 39.1" stroke="#989898" stroke-width="1.2" opacity="0.08"/><path d="M123.8 99.0L124.3 96.6L124.7 94.1L124.9 91.6L124.9 89.1L125.0 86.6L124.9 84.1L124.6 81.6L124.2 79.2" stroke="#969696" stroke-width="1.4" opacity="0.14"/><path d="M133.8 56.3L132.0 54.5L130.2 52.8L128.4 51.1L126.5 49.4" stroke="#a2a2a2" stroke-width="0.7" opacity="0.19"/><path d="M102.3 111.9L104.1 110.2L105.8 108.4L107.5 106.5L108.9 104.5L110.4 102.5L111.7 100.3L112.9 98.1L113.9 95.8" stroke="#151515" stroke-width="0.8" opacity="0.04"/><path d="M44.9 109.5L46.9 110.9L48.9 112.4" stroke="#adadad" stroke-width="0.6" opacity="0.11"/><path d="M-0.5 72.3L0.1 74.8L0.8 77.2L1.4 79.6L2.1 82.0" stroke="#1c1c1c" stroke-width="0.7" opacity="0.12"/><path d="M11.1 3.4L10.0 5.6L8.9 7.9L7.8 10.2L6.8 12.4L5.8 14.7L4.9 17.1" stroke="#101010" stroke-width="0.9" opacity="0.07"/><path d="M73.5 93.2L75.9 94.1L78.3 94.7L80.8 95.0L83.3 95.0L85.8 95.0L88.3 94.7L90.6 94.0L92.9 92.9" stroke="#161616" stroke-width="1.3" opacity="0.04"/><path d="M36.0 74.5L36.6 76.9L37.3 79.3L38.1 81.7L38.9 84.0" stroke="#0a0a0a" stroke-width="0.7" opacity="0.07"/><path d="M75.6 24.3L73.4 25.6L71.3 26.9L69.3 28.4L67.4 30.0L65.4 31.6L63.6 33.2L61.8 35.0L60.1 36.8" stroke="#b7b7b7" stroke-width="0.9" opacity="0.09"/><path d="M103.7 126.0L105.7 124.5L107.6 122.9L109.5 121.2L111.2 119.5L113.0 117.7L114.7 115.9L116.3 113.9L117.7 111.9" stroke="#999999" stroke-width="0.7" opacity="0.09"/><path d="M134.0 91.6L133.9 89.1L133.7 86.6L133.4 84.1L132.9 81.7L132.4 79.2L131.8 76.8L131.1 74.4L130.2 72.1" stroke="#b2b2b2" stroke-width="0.7" opacity="0.13"/><path d="M103.3 136.3L105.4 134.9L107.5 133.6" stroke="#a7a7a7" stroke-width="0.8" opacity="0.11"/><path d="M17.7 21.3L16.8 23.6L15.9 26.0L15.0 28.3L14.2 30.7" stroke="#a8a8a8" stroke-width="0.5" opacity="0.10"/><path d="M39.2 91.6L40.6 93.6L42.0 95.6L43.5 97.7L45.1 99.6" stroke="#959595" stroke-width="1.0" opacity="0.18"/><path d="M8.0 4.1L6.9 6.3L5.9 8.6L4.9 10.9L3.9 13.2L3.0 15.5L2.1 17.8" stroke="#a8a8a8" stroke-width="0.6" opacity="0.09"/><path d="M98.8 56.4L96.3 56.2L93.8 56.2L91.3 56.2L88.9 56.5" stroke="#b6b6b6" stroke-width="1.0" opacity="0.07"/><path d="M48.9 47.5L48.0 49.9L47.3 52.3L46.7 54.7L46.3 57.2L45.8 59.6L45.4 62.1L45.2 64.6L45.2 67.1" stroke="#0e0e0e" stroke-width="1.2" opacity="0.06"/><path d="M30.9 -11.0L29.2 -9.1L27.7 -7.1L26.1 -5.1L24.7 -3.1L23.2 -1.1L21.7 0.9L20.4 3.0L19.0 5.1" stroke="#b0b0b0" stroke-width="1.3" opacity="0.13"/><path d="M62.7 18.2L60.8 19.9L59.0 21.5" stroke="#a8a8a8" stroke-width="0.6" opacity="0.19"/><path d="M90.6 47.9L88.2 48.6L85.8 49.4L83.5 50.5L81.3 51.5L79.1 52.8L77.1 54.2" stroke="#999999" stroke-width="1.3" opacity="0.09"/><path d="M10.3 58.1L10.5 60.6L10.7 63.1L10.9 65.6L11.3 68.1L11.7 70.5L12.1 73.0L12.6 75.4L13.2 77.9" stroke="#0a0a0a" stroke-width="1.3" opacity="0.06"/><path d="M134.5 69.1L133.3 66.9L132.0 64.7" stroke="#0f0f0f" stroke-width="1.1" opacity="0.11"/><path d="M121.9 21.3L119.4 20.7L117.0 20.2L114.5 19.8L112.0 19.5L109.5 19.3L107.0 19.1L104.5 19.0L102.0 19.0" stroke="#9e9e9e" stroke-width="1.2" opacity="0.18"/><path d="M24.7 21.1L23.6 23.4L22.7 25.7L21.7 28.0L20.8 30.4L20.0 32.7L19.2 35.1" stroke="#9d9d9d" stroke-width="0.7" opacity="0.09"/><path d="M95.8 128.9L98.0 127.8L100.2 126.7" stroke="#adadad" stroke-width="1.3" opacity="0.08"/><path d="M10.2 77.0L10.9 79.4L11.7 81.7L12.6 84.1L13.4 86.4L14.4 88.7L15.4 91.0" stroke="#9a9a9a" stroke-width="1.0" opacity="0.13"/><path d="M51.4 86.8L52.8 88.9L54.3 90.9L55.9 92.8L57.5 94.7L59.3 96.5L61.1 98.1" stroke="#8d8d8d" stroke-width="0.9" opacity="0.15"/><path d="M33.7 110.3L35.6 111.9L33.6 110.4L31.4 109.2L29.1 108.2L26.8 107.2L24.4 106.5L21.9 106.1L19.4 106.0" stroke="#949494" stroke-width="0.6" opacity="0.08"/><path d="M14.0 56.8L14.1 59.3L14.1 61.8" stroke="#a2a2a2" stroke-width="1.1" opacity="0.08"/><path d="M5.6 95.7L6.8 97.9L8.1 100.0L9.5 102.1L7.6 103.7L5.7 105.4L3.9 107.2L2.5 109.2L1.2 111.4" stroke="#8f8f8f" stroke-width="0.8" opacity="0.08"/><path d="M139.1 19.6L136.8 18.6L134.5 17.7L132.2 16.8L129.8 16.0L127.4 15.2L125.0 14.5L122.6 13.9L120.2 13.3" stroke="#181818" stroke-width="0.7" opacity="0.11"/><path d="M138.8 79.8L138.1 77.4L137.3 75.1L136.3 72.7L135.3 70.5L134.1 68.3L133.0 66.0L131.7 63.9L130.3 61.8L128.8 59.8L127.2 57.9" stroke="#090909" stroke-width="1.3" opacity="0.11"/><path d="M6.4 37.6L6.0 40.1L5.7 42.6L5.4 45.1L5.2 47.5L5.0 50.0L4.9 52.5L4.8 55.0L4.8 57.5" stroke="#b3b3b3" stroke-width="1.2" opacity="0.11"/><path d="M15.1 59.8L15.3 62.3L15.5 64.8L15.8 67.3L16.2 69.8L16.6 72.2L17.1 74.7L17.6 77.1L18.3 79.5" stroke="#989898" stroke-width="0.8" opacity="0.14"/><path d="M2.7 18.0L1.9 20.4L1.2 22.7L0.5 25.1L-0.2 27.6" stroke="#161616" stroke-width="0.7" opacity="0.11"/><path d="M113.9 13.2L111.4 13.0L108.9 12.9L106.4 12.9L103.9 12.9L101.4 13.0L98.9 13.2" stroke="#9c9c9c" stroke-width="1.0" opacity="0.18"/><path d="M75.1 125.8L77.6 125.6L80.1 125.5" stroke="#151515" stroke-width="1.2" opacity="0.08"/><path d="M27.3 141.3L28.8 139.3L31.0 140.4L33.3 141.5L35.5 142.6L37.8 143.6L40.1 144.5" stroke="#adadad" stroke-width="0.7" opacity="0.13"/><path d="M110.6 2.5L108.1 2.5L105.6 2.6L103.1 2.8L100.6 3.1L98.1 3.4L95.7 3.7L93.2 4.1L90.7 4.6" stroke="#a8a8a8" stroke-width="1.0" opacity="0.20"/><path d="M91.8 41.3L89.4 41.9L87.0 42.5" stroke="#939393" stroke-width="0.9" opacity="0.15"/><path d="M63.2 126.9L65.6 127.3L68.1 127.6L70.6 127.8L73.1 128.0" stroke="#a9a9a9" stroke-width="0.5" opacity="0.08"/><path d="M49.3 8.0L47.6 9.8L45.9 11.6L44.3 13.5L42.7 15.4" stroke="#a6a6a6" stroke-width="0.7" opacity="0.15"/><path d="M5.8 80.5L6.6 82.8L7.5 85.2L8.5 87.5L9.5 89.8L10.5 92.0L11.6 94.3L12.8 96.5L14.0 98.7" stroke="#0f0f0f" stroke-width="0.5" opacity="0.07"/><path d="M109.2 32.9L106.7 32.6L104.2 32.5L101.7 32.4L99.2 32.5L96.7 32.6L94.2 32.8L91.7 33.1L89.3 33.6" stroke="#a3a3a3" stroke-width="0.7" opacity="0.13"/><path d="M5.5 108.3L4.2 110.4L2.9 112.6" stroke="#b5b5b5" stroke-width="0.7" opacity="0.05"/><path d="M45.1 -4.2L43.3 -2.4L41.6 -0.6L39.9 1.2L38.2 3.1L36.6 5.0L35.0 7.0L33.5 8.9L32.0 11.0" stroke="#171717" stroke-width="1.3" opacity="0.05"/><path d="M108.7 70.4L107.0 68.6L105.1 66.9L103.1 65.5L100.8 64.3L98.6 63.2L96.3 62.3L93.8 61.8L91.3 61.6" stroke="#969696" stroke-width="0.7" opacity="0.06"/><path d="M2.7 35.4L2.3 37.8L2.0 40.3L1.7 42.8L1.5 45.3L1.2 47.8L1.1 50.3L1.0 52.8L1.0 55.3" stroke="#b1b1b1" stroke-width="0.7" opacity="0.17"/><path d="M80.9 53.0L78.9 54.5L77.1 56.2L75.4 58.0L73.9 60.1L72.4 62.1L71.2 64.2L70.2 66.5L69.4 68.9" stroke="#989898" stroke-width="1.4" opacity="0.09"/><path d="M26.8 127.8L26.5 125.3L26.3 122.8" stroke="#969696" stroke-width="1.4" opacity="0.09"/><path d="M110.8 45.9L108.4 45.2L105.9 44.6L103.5 44.2L101.0 44.0L98.5 43.8L96.0 43.7L93.5 43.8L91.0 44.1" stroke="#979797" stroke-width="1.1" opacity="0.19"/><path d="M81.9 97.9L84.4 97.6L86.8 97.1L89.2 96.3L91.4 95.2L93.5 93.7L95.5 92.3L97.3 90.6L98.9 88.6L100.1 86.4L100.9 84.0" stroke="#b1b1b1" stroke-width="1.3" opacity="0.10"/><path d="M51.7 97.7L53.5 99.4L55.5 101.0L57.5 102.4L59.5 103.9L61.7 105.2L63.9 106.4" stroke="#959595" stroke-width="0.6" opacity="0.15"/><path d="M126.6 17.9L124.1 17.2L121.7 16.6" stroke="#b5b5b5" stroke-width="0.6" opacity="0.12"/><path d="M4.6 -6.8L3.4 -4.6L2.2 -2.4L1.1 -0.1L0.0 2.1L-1.0 4.4L-2.0 6.7L-3.0 9.0L-3.9 11.3" stroke="#aaaaaa" stroke-width="0.6" opacity="0.17"/><path d="M88.0 45.0L85.7 45.8L83.4 46.8L81.2 48.0L79.1 49.4L77.0 50.7L75.0 52.3L73.2 54.0L71.5 55.8" stroke="#1c1c1c" stroke-width="1.3" opacity="0.03"/><path d="M123.0 136.6L124.7 134.7L126.3 132.8" stroke="#919191" stroke-width="1.3" opacity="0.08"/><path d="M107.0 98.6L108.1 96.3L109.1 94.0L109.8 91.6L110.3 89.2L110.7 86.7L111.0 84.2L110.9 81.7L110.7 79.2" stroke="#999999" stroke-width="0.6" opacity="0.06"/><path d="M107.6 26.2L105.1 26.1L102.6 26.1L100.1 26.1L97.6 26.2" stroke="#8d8d8d" stroke-width="0.8" opacity="0.11"/><path d="M101.7 50.4L99.2 50.1L96.7 50.1L94.2 50.0L91.7 50.1" stroke="#121212" stroke-width="1.1" opacity="0.07"/><path d="M0.3 49.2L0.3 51.7L0.3 54.2L0.4 56.7L0.4 59.2L0.6 61.7L0.8 64.1" stroke="#0e0e0e" stroke-width="1.0" opacity="0.10"/><path d="M27.3 125.0L26.5 122.7L25.6 120.3" stroke="#090909" stroke-width="0.7" opacity="0.03"/><path d="M101.1 140.9L103.2 139.6L105.4 138.4" stroke="#a2a2a2" stroke-width="0.7" opacity="0.18"/><path d="M72.5 39.8L70.6 41.4L68.8 43.2L67.1 45.0L65.6 47.0L64.0 49.0L62.6 51.0L61.3 53.2L60.2 55.4" stroke="#b5b5b5" stroke-width="0.7" opacity="0.11"/><path d="M87.1 114.4L89.5 113.6L91.8 112.7L94.1 111.6L96.3 110.5L98.5 109.3L100.6 107.9" stroke="#9e9e9e" stroke-width="1.3" opacity="0.13"/><path d="M6.7 124.5L8.1 126.5L9.6 128.6" stroke="#989898" stroke-width="1.0" opacity="0.10"/><path d="M44.8 123.8L47.1 124.9L49.4 125.9L51.7 126.8L54.0 127.7" stroke="#a3a3a3" stroke-width="1.2" opacity="0.17"/><path d="M91.8 45.9L89.3 46.4L86.9 47.2L84.6 47.9L82.2 48.9" stroke="#b1b1b1" stroke-width="1.2" opacity="0.10"/><path d="M20.1 50.5L20.0 53.0L19.8 55.5L19.8 58.0L19.9 60.5L19.9 63.0L20.0 65.5L20.3 67.9L20.6 70.4" stroke="#929292" stroke-width="1.3" opacity="0.14"/><path d="M31.8 19.7L30.6 21.9L29.5 24.1L28.3 26.4L27.3 28.6" stroke="#1b1b1b" stroke-width="0.6" opacity="0.06"/><path d="M33.0 36.8L32.2 39.2L31.5 41.6L30.8 44.0L30.2 46.4L29.6 48.8L29.1 51.3" stroke="#9a9a9a" stroke-width="1.4" opacity="0.10"/><path d="M111.0 10.4L108.5 10.3L106.0 10.3L103.5 10.5L101.0 10.7L98.5 11.0L96.0 11.2L93.6 11.6L91.1 12.1L88.7 12.7L86.3 13.3" stroke="#9d9d9d" stroke-width="1.2" opacity="0.20"/><path d="M103.9 61.5L101.6 60.6L99.2 59.9L96.8 59.2L94.3 58.8" stroke="#919191" stroke-width="0.8" opacity="0.06"/><path d="M1.1 44.6L0.9 47.1L0.8 49.6L0.7 52.1L0.8 54.6L0.8 57.1L0.9 59.6L1.1 62.1L1.3 64.6" stroke="#a2a2a2" stroke-width="0.9" opacity="0.16"/><path d="M13.5 77.6L14.2 80.0L15.1 82.3L16.0 84.7L16.8 87.0L17.8 89.3L18.9 91.6" stroke="#1c1c1c" stroke-width="1.0" opacity="0.08"/><path d="M106.1 59.6L103.8 58.6L101.4 57.9L99.0 57.1L96.6 56.6" stroke="#1c1c1c" stroke-width="1.1" opacity="0.06"/><path d="M113.3 102.8L114.3 100.6L115.2 98.2L115.9 95.8L116.7 93.4L117.2 91.0L117.6 88.5" stroke="#9a9a9a" stroke-width="0.6" opacity="0.09"/><path d="M46.7 105.4L48.7 106.9L50.7 108.4L52.9 109.7L55.0 110.9L57.2 112.2L59.5 113.3L61.7 114.3L64.1 115.1" stroke="#979797" stroke-width="0.9" opacity="0.13"/><path d="M92.9 53.0L90.4 53.4L88.0 54.1L85.7 55.0L83.5 56.1L81.2 57.3L79.2 58.7L77.2 60.3L75.5 62.1" stroke="#0a0a0a" stroke-width="1.2" opacity="0.06"/><path d="M52.1 55.6L51.5 58.0L51.1 60.5L50.8 63.0L50.7 65.5L50.7 68.0L50.7 70.5L50.9 73.0L51.2 75.4L51.7 77.9L52.4 80.3" stroke="#a4a4a4" stroke-width="1.2" opacity="0.10"/><path d="M129.3 74.6L128.3 72.3L127.3 70.0" stroke="#a4a4a4" stroke-width="1.0" opacity="0.17"/><path d="M78.6 119.0L81.0 118.7L83.5 118.3L85.9 117.8L88.4 117.2L90.8 116.5L93.1 115.7" stroke="#b5b5b5" stroke-width="1.1" opacity="0.11"/><path d="M47.2 105.1L49.2 106.6L51.2 108.0L53.3 109.5L55.4 110.8" stroke="#0e0e0e" stroke-width="0.7" opacity="0.05"/><path d="M58.1 -6.7L56.1 -5.2L54.2 -3.6L52.2 -2.0L50.3 -0.4L48.4 1.2L46.6 2.9" stroke="#ababab" stroke-width="0.7" opacity="0.12"/><path d="M25.3 99.7L26.8 101.7L28.4 103.7L30.0 105.6L27.6 104.9L25.2 104.3L22.7 103.9L20.2 103.8L17.7 104.1" stroke="#969696" stroke-width="0.9" opacity="0.10"/><path d="M31.1 6.5L29.7 8.6L28.4 10.7L27.1 12.8L25.8 15.0L24.6 17.2L23.4 19.4L22.3 21.6L21.2 23.9" stroke="#151515" stroke-width="1.0" opacity="0.08"/><path d="M24.6 141.4L26.3 139.6L27.8 137.6L29.3 135.6L30.4 133.4" stroke="#b0b0b0" stroke-width="0.9" opacity="0.10"/><path d="M36.3 71.7L36.8 74.1L37.4 76.5L38.0 79.0L38.7 81.4" stroke="#0e0e0e" stroke-width="0.7" opacity="0.11"/><path d="M53.3 27.1L51.7 29.1L50.3 31.2L48.9 33.2L47.6 35.3L46.3 37.5L45.1 39.7" stroke="#8c8c8c" stroke-width="0.8" opacity="0.17"/><path d="M33.0 33.3L32.1 35.6L31.2 38.0L30.5 40.3L29.7 42.7L29.0 45.1L28.5 47.6" stroke="#a8a8a8" stroke-width="0.8" opacity="0.16"/><path d="M125.3 123.6L126.7 121.5L128.0 119.4" stroke="#1c1c1c" stroke-width="0.6" opacity="0.10"/><path d="M112.6 91.5L113.0 89.0L113.3 86.5" stroke="#b6b6b6" stroke-width="0.7" opacity="0.10"/><path d="M12.3 12.4L11.2 14.7L10.3 17.0L9.3 19.3L8.4 21.6" stroke="#0e0e0e" stroke-width="1.3" opacity="0.06"/><path d="M117.3 21.8L114.9 21.4L112.4 21.0L109.9 20.8L107.4 20.7L104.9 20.5L102.4 20.5L99.9 20.6L97.4 20.7" stroke="#aeaeae" stroke-width="1.3" opacity="0.16"/><path d="M103.0 122.3L105.0 120.8L106.9 119.2L108.8 117.6L110.6 115.9" stroke="#a3a3a3" stroke-width="0.9" opacity="0.17"/><path d="M121.4 82.4L120.9 79.9L120.2 77.5L119.5 75.1L118.6 72.8" stroke="#929292" stroke-width="0.6" opacity="0.08"/><path d="M67.7 12.7L65.7 14.1L63.7 15.6L61.7 17.2L59.8 18.8L57.9 20.4L56.1 22.1" stroke="#a4a4a4" stroke-width="0.5" opacity="0.18"/><path d="M118.9 70.7L117.5 68.6L116.0 66.6L114.3 64.7L112.6 62.9L110.8 61.2L108.8 59.7" stroke="#b1b1b1" stroke-width="0.9" opacity="0.07"/><path d="M138.3 9.3L136.0 8.5L133.6 7.8L131.2 7.1L128.8 6.4L126.3 5.8L123.9 5.3" stroke="#8d8d8d" stroke-width="1.1" opacity="0.15"/><path d="M136.8 52.4L135.0 50.7L133.1 49.0L131.2 47.4L129.1 45.9L127.1 44.5L125.0 43.2L122.8 41.9L120.6 40.7L118.4 39.6L116.1 38.6" stroke="#a1a1a1" stroke-width="0.5" opacity="0.19"/><path d="M65.1 107.8L67.5 108.6L69.9 109.2L72.4 109.8L74.8 110.3" stroke="#9f9f9f" stroke-width="1.2" opacity="0.15"/><path d="M37.7 120.5L36.5 118.3L38.5 119.7L37.2 117.6L35.9 115.5L34.3 113.5L32.6 111.7" stroke="#989898" stroke-width="1.4" opacity="0.08"/><path d="M83.2 113.5L85.7 113.0L88.1 112.3L90.5 111.7L92.9 110.8" stroke="#999999" stroke-width="1.1" opacity="0.15"/><path d="M116.3 2.0L113.8 1.8L111.3 1.8L108.8 1.8L106.3 1.9L103.8 2.0L101.3 2.1L98.9 2.4L96.4 2.7" stroke="#131313" stroke-width="0.8" opacity="0.05"/><path d="M-0.2 14.3L-1.0 16.7L-1.8 19.1L-2.5 21.5L-3.1 23.9L-3.8 26.3L-4.4 28.7L-4.9 31.2L-5.4 33.6" stroke="#a9a9a9" stroke-width="1.3" opacity="0.17"/><path d="M22.4 87.4L23.5 89.6L24.6 91.8L25.9 94.0L27.2 96.1L28.5 98.3L29.9 100.3" stroke="#080808" stroke-width="0.5" opacity="0.06"/><path d="M98.6 134.2L100.8 133.0L102.9 131.7L105.0 130.3L107.1 128.9L109.1 127.4L111.0 125.9" stroke="#b0b0b0" stroke-width="1.0" opacity="0.17"/><path d="M34.9 33.3L34.0 35.7L33.1 38.0L32.3 40.4L31.5 42.7L30.8 45.1L30.2 47.6" stroke="#9f9f9f" stroke-width="1.3" opacity="0.16"/><path d="M3.0 77.0L3.7 79.4L4.4 81.8" stroke="#afafaf" stroke-width="1.3" opacity="0.15"/><path d="M62.9 -4.8L60.8 -3.4L58.8 -1.9L56.8 -0.5L54.8 1.1" stroke="#b5b5b5" stroke-width="0.9" opacity="0.20"/><path d="M59.7 6.1L57.8 7.7L55.9 9.3L54.0 11.0L52.2 12.7L50.4 14.4L48.7 16.2" stroke="#939393" stroke-width="0.5" opacity="0.08"/><path d="M104.6 12.2L102.1 12.4L99.6 12.6L97.1 12.9L94.7 13.4L92.2 13.9L89.8 14.4L87.3 15.0L84.9 15.7L82.6 16.5L80.2 17.4" stroke="#b2b2b2" stroke-width="0.5" opacity="0.10"/><path d="M107.2 31.6L104.7 31.4L102.2 31.3L99.7 31.4L97.2 31.6L94.7 31.8L92.2 32.1L89.8 32.6L87.3 33.1" stroke="#8e8e8e" stroke-width="1.1" opacity="0.17"/><path d="M115.3 105.4L116.4 103.2L117.5 100.9" stroke="#ababab" stroke-width="1.3" opacity="0.14"/><path d="M25.3 142.6L27.0 140.8L29.2 142.0L30.6 139.9L31.7 137.7L32.9 135.4L33.8 133.1L34.4 130.7L34.6 128.2" stroke="#8d8d8d" stroke-width="1.2" opacity="0.09"/><path d="M9.1 31.9L8.5 34.3L8.0 36.8L7.6 39.2L7.2 41.7L6.8 44.2L6.5 46.6L6.3 49.1L6.1 51.6" stroke="#b2b2b2" stroke-width="0.6" opacity="0.14"/><path d="M45.7 73.3L46.2 75.7L46.9 78.1L47.7 80.5L48.5 82.8L49.5 85.1L50.6 87.4" stroke="#939393" stroke-width="0.8" opacity="0.18"/><path d="M107.1 84.2L106.9 81.7L106.4 79.3L105.9 76.8L105.1 74.5" stroke="#b6b6b6" stroke-width="1.2" opacity="0.10"/><path d="M38.7 73.2L39.3 75.6L40.0 78.0L40.8 80.4L41.7 82.7L42.7 85.0L43.8 87.3L44.9 89.5L46.2 91.6L47.6 93.7L49.1 95.7" stroke="#141414" stroke-width="0.9" opacity="0.07"/><path d="M128.6 57.8L126.8 56.0L125.0 54.3L123.0 52.8L121.0 51.3L118.9 49.9L116.8 48.6L114.6 47.4L112.4 46.3" stroke="#b3b3b3" stroke-width="0.8" opacity="0.18"/><path d="M-2.3 27.3L-2.9 29.7L-3.3 32.2L-3.8 34.6L-4.2 37.1L-4.5 39.6L-4.8 42.1" stroke="#b0b0b0" stroke-width="0.5" opacity="0.19"/><path d="M106.2 122.3L108.1 120.7L109.9 119.0L111.6 117.2L113.2 115.2L114.9 113.3L116.4 111.3L117.8 109.3L119.0 107.1" stroke="#989898" stroke-width="1.2" opacity="0.18"/><path d="M87.6 131.9L90.0 131.1L92.3 130.2L94.7 129.4L97.0 128.4" stroke="#a4a4a4" stroke-width="0.7" opacity="0.18"/><path d="M97.1 135.2L99.4 134.1L101.6 132.9L103.7 131.6L105.8 130.3" stroke="#aaaaaa" stroke-width="0.7" opacity="0.14"/><path d="M25.5 98.6L27.0 100.6L28.5 102.6L30.2 104.5L31.8 106.3L33.5 108.2L35.3 110.0L37.1 111.7L39.0 113.3" stroke="#909090" stroke-width="1.2" opacity="0.10"/><path d="M26.1 71.5L26.6 74.0L27.3 76.4L28.0 78.8L28.8 81.1L29.6 83.5L30.5 85.8L31.5 88.1L32.5 90.4" stroke="#121212" stroke-width="1.0" opacity="0.08"/><path d="M24.7 19.7L23.6 22.0L22.6 24.3L21.6 26.5L20.7 28.9" stroke="#0e0e0e" stroke-width="0.9" opacity="0.09"/><path d="M70.9 16.5L68.8 17.9L66.7 19.3" stroke="#0f0f0f" stroke-width="1.1" opacity="0.06"/><path d="M114.3 19.5L111.8 19.2L109.3 19.0L106.8 18.9L104.3 18.9L101.8 18.9L99.3 19.0" stroke="#a3a3a3" stroke-width="0.5" opacity="0.08"/><path d="M131.6 129.7L132.9 127.6L134.2 125.4L135.3 123.2L136.5 121.0L137.6 118.8L138.6 116.5" stroke="#989898" stroke-width="0.9" opacity="0.17"/><path d="M124.9 117.8L126.2 115.6L127.3 113.3L128.3 111.0L129.2 108.7L130.1 106.4L130.9 104.0L131.5 101.6L132.1 99.2" stroke="#0c0c0c" stroke-width="0.7" opacity="0.05"/><path d="M22.7 6.1L21.4 8.3L20.2 10.4" stroke="#b2b2b2" stroke-width="1.4" opacity="0.13"/><path d="M131.3 7.0L128.9 6.4L126.5 5.9L124.0 5.4L121.6 5.0L119.1 4.6L116.6 4.3" stroke="#919191" stroke-width="0.7" opacity="0.20"/><path d="M66.7 81.4L68.0 83.6L69.5 85.5L71.3 87.3L73.3 88.8L75.4 90.1L77.6 91.4L79.9 92.3L82.3 92.9L84.8 93.2L87.3 93.0" stroke="#9d9d9d" stroke-width="0.6" opacity="0.08"/><path d="M128.6 145.5L130.3 143.6L131.9 141.7L133.5 139.8L135.0 137.8" stroke="#979797" stroke-width="1.3" opacity="0.12"/><path d="M121.9 121.1L123.3 119.0L124.7 116.9" stroke="#171717" stroke-width="1.4" opacity="0.10"/><path d="M7.6 8.0L6.6 10.3L5.6 12.6L4.7 14.9L3.8 17.3L3.0 19.6L2.2 22.0L1.4 24.4L0.7 26.8" stroke="#161616" stroke-width="1.0" opacity="0.07"/><path d="M107.6 11.3L105.1 11.3L102.6 11.5L100.1 11.6L97.7 11.9" stroke="#929292" stroke-width="0.7" opacity="0.14"/><path d="M35.0 8.6L33.5 10.7L32.2 12.8L30.8 14.9L29.6 17.0L28.3 19.2L27.1 21.4L25.9 23.6L24.8 25.8" stroke="#ababab" stroke-width="0.5" opacity="0.10"/><path d="M135.5 32.7L133.4 31.5L131.1 30.4L128.8 29.3L126.5 28.4L124.2 27.5L121.9 26.6L119.5 25.8L117.1 25.2" stroke="#1c1c1c" stroke-width="0.9" opacity="0.06"/><path d="M2.0 126.3L3.5 128.4L5.2 130.1L7.3 131.5L9.6 132.4L12.0 133.4L14.4 133.8L16.9 133.6L19.3 132.9" stroke="#a0a0a0" stroke-width="1.2" opacity="0.07"/><path d="M60.3 84.2L61.6 86.3L63.2 88.3L64.7 90.2L66.5 92.1" stroke="#8f8f8f" stroke-width="1.0" opacity="0.10"/><path d="M118.7 47.2L116.4 46.1L114.1 45.1L111.8 44.2L109.5 43.3" stroke="#9a9a9a" stroke-width="0.6" opacity="0.19"/><path d="M143.2 7.5L140.8 6.6L138.5 5.8L136.1 5.0L133.7 4.4L131.3 3.7L128.9 3.0L126.4 2.5L124.0 2.0" stroke="#959595" stroke-width="0.8" opacity="0.14"/><path d="M34.7 21.2L33.4 23.4L32.3 25.6L31.1 27.8L30.0 30.1" stroke="#1f1f1f" stroke-width="0.6" opacity="0.11"/><path d="M36.9 130.1L36.7 127.7L36.5 125.2" stroke="#0d0d0d" stroke-width="0.5" opacity="0.07"/><path d="M114.2 47.8L111.9 46.9L109.5 46.1L107.2 45.3L104.8 44.7" stroke="#b0b0b0" stroke-width="0.7" opacity="0.14"/><path d="M52.4 128.6L54.8 129.3L57.2 130.0L59.7 130.6L62.1 131.2" stroke="#929292" stroke-width="1.2" opacity="0.10"/><path d="M98.6 24.6L96.1 24.9L93.6 25.2" stroke="#a7a7a7" stroke-width="0.7" opacity="0.14"/><path d="M21.6 76.6L22.3 79.0L23.1 81.3L24.0 83.7L25.0 86.0L26.0 88.3L27.0 90.5L28.2 92.8L29.4 94.9" stroke="#141414" stroke-width="0.6" opacity="0.06"/><path d="M108.5 59.2L106.3 58.1L103.9 57.1L101.5 56.4L99.1 56.0L96.6 55.5L94.2 55.2L91.7 55.3L89.2 55.5" stroke="#afafaf" stroke-width="1.3" opacity="0.07"/><path d="M119.0 70.5L117.6 68.4L116.3 66.3" stroke="#111111" stroke-width="0.7" opacity="0.07"/><path d="M-4.7 65.0L-4.3 67.5L-3.9 69.9L-3.3 72.4L-2.8 74.8L-2.2 77.2L-1.6 79.6" stroke="#919191" stroke-width="1.2" opacity="0.17"/><path d="M126.5 48.0L124.4 46.6L122.3 45.4L120.0 44.2L117.8 43.2L115.5 42.1L113.2 41.2L110.8 40.4L108.4 39.7" stroke="#adadad" stroke-width="1.3" opacity="0.09"/><path d="M133.4 75.5L132.5 73.2L131.4 70.9L130.2 68.7L129.1 66.5L127.8 64.3L126.3 62.3" stroke="#a4a4a4" stroke-width="1.4" opacity="0.08"/><path d="M28.6 20.6L27.5 22.8L26.4 25.0" stroke="#b0b0b0" stroke-width="0.6" opacity="0.08"/><path d="M96.8 24.3L94.3 24.7L91.9 25.0" stroke="#a5a5a5" stroke-width="1.1" opacity="0.14"/><path d="M70.2 33.7L68.3 35.4L66.5 37.1L64.6 38.8L62.9 40.6" stroke="#929292" stroke-width="1.3" opacity="0.15"/><path d="M14.2 70.5L14.7 72.9L15.3 75.4L16.0 77.8L16.7 80.2L17.5 82.5L18.3 84.9L19.2 87.2L20.2 89.5" stroke="#b0b0b0" stroke-width="0.8" opacity="0.19"/><path d="M48.4 116.1L50.6 117.3L52.9 118.4L55.2 119.4L57.5 120.3L59.8 121.2L62.2 121.9" stroke="#b5b5b5" stroke-width="0.8" opacity="0.17"/><path d="M31.9 38.0L31.1 40.4L30.4 42.8L29.8 45.2L29.2 47.7L28.7 50.1L28.3 52.6" stroke="#1a1a1a" stroke-width="1.2" opacity="0.11"/><path d="M122.7 4.7L120.2 4.3L117.8 4.1L115.3 3.9L112.8 3.7L110.3 3.5L107.8 3.5" stroke="#1d1d1d" stroke-width="0.9" opacity="0.07"/><path d="M92.2 47.4L89.7 47.9L87.3 48.6L85.0 49.5L82.7 50.5L80.5 51.6L78.3 52.9" stroke="#9f9f9f" stroke-width="0.5" opacity="0.08"/><path d="M5.7 138.3L8.2 138.9L10.7 139.1L13.2 139.0L15.6 138.4L18.1 137.9L20.4 137.0L22.5 135.7L24.4 134.1" stroke="#151515" stroke-width="1.3" opacity="0.06"/><path d="M127.9 2.2L125.4 1.7L122.9 1.4L120.5 1.0L118.0 0.7L115.5 0.5L113.0 0.3" stroke="#aaaaaa" stroke-width="1.0" opacity="0.11"/><path d="M126.1 92.3L126.1 89.8L126.1 87.3L126.0 84.8L125.7 82.3" stroke="#9f9f9f" stroke-width="0.8" opacity="0.19"/><path d="M36.5 86.8L37.7 89.0L39.0 91.1L40.2 93.3L41.6 95.4" stroke="#b6b6b6" stroke-width="0.7" opacity="0.14"/><path d="M61.2 69.4L61.3 71.9L61.6 74.4L62.0 76.9L62.5 79.3" stroke="#929292" stroke-width="0.9" opacity="0.07"/><path d="M37.7 29.5L36.6 31.8L35.5 34.0" stroke="#b1b1b1" stroke-width="1.0" opacity="0.15"/><path d="M97.3 23.4L94.8 23.8L92.3 24.3L89.9 24.9L87.5 25.6L85.1 26.3L82.7 27.1L80.4 28.0L78.1 29.0" stroke="#a4a4a4" stroke-width="0.9" opacity="0.15"/><path d="M42.1 27.2L40.9 29.4L39.7 31.6L38.5 33.8L37.4 36.0" stroke="#9d9d9d" stroke-width="0.5" opacity="0.15"/><path d="M41.2 120.2L43.4 121.4L45.6 122.6L47.8 123.8L50.1 124.9" stroke="#a2a2a2" stroke-width="1.4" opacity="0.11"/><path d="M34.0 106.0L35.7 107.7L37.6 109.4L39.4 111.1L41.3 112.7" stroke="#b2b2b2" stroke-width="0.6" opacity="0.13"/><path d="M53.0 50.9L52.2 53.3L51.5 55.7L51.0 58.2L50.6 60.6L50.2 63.1L49.9 65.6L49.8 68.1L49.9 70.6" stroke="#969696" stroke-width="1.2" opacity="0.20"/><path d="M18.6 40.6L18.1 43.0L17.7 45.5L17.3 48.0L17.0 50.5" stroke="#a7a7a7" stroke-width="1.2" opacity="0.18"/><path d="M59.9 100.1L62.0 101.4L64.2 102.6L66.5 103.7L68.9 104.5L71.2 105.4L73.6 106.1L76.1 106.6L78.5 106.9" stroke="#111111" stroke-width="1.1" opacity="0.06"/><path d="M134.2 17.7L131.9 16.8L129.5 16.0L127.1 15.3L124.7 14.7L122.3 14.1L119.8 13.5L117.4 13.1L114.9 12.7" stroke="#adadad" stroke-width="0.9" opacity="0.15"/><path d="M132.7 87.4L132.4 84.9L132.0 82.5L131.5 80.0L130.9 77.6L130.2 75.2L129.4 72.8" stroke="#1b1b1b" stroke-width="0.8" opacity="0.09"/><path d="M62.7 53.8L61.7 56.1L60.8 58.4L60.1 60.8L59.6 63.3L59.1 65.7L58.8 68.2L58.7 70.7L58.7 73.2" stroke="#9d9d9d" stroke-width="0.8" opacity="0.09"/><path d="M33.9 104.9L35.6 106.7L37.5 108.4L39.4 110.1L41.3 111.6L43.3 113.2L45.3 114.7L47.4 116.0L49.5 117.3" stroke="#9f9f9f" stroke-width="0.8" opacity="0.10"/><path d="M14.4 73.3L15.0 75.7L15.6 78.1L16.4 80.5L17.2 82.9L18.0 85.3L18.9 87.6" stroke="#b4b4b4" stroke-width="1.3" opacity="0.12"/><path d="M110.0 139.9L112.0 138.4L113.9 136.8L115.9 135.3L117.7 133.6" stroke="#b4b4b4" stroke-width="0.5" opacity="0.08"/><path d="M70.8 62.3L69.9 64.6L69.2 67.0L68.9 69.5L68.8 72.0L68.7 74.5L69.0 77.0L69.5 79.4L70.4 81.8" stroke="#9c9c9c" stroke-width="0.8" opacity="0.09"/><path d="M128.0 102.8L128.6 100.3L129.1 97.9L129.4 95.4L129.7 92.9L129.9 90.4L129.9 87.9" stroke="#9c9c9c" stroke-width="1.0" opacity="0.13"/><path d="M64.3 124.5L66.8 124.9L69.3 125.2L71.8 125.3L74.3 125.3L76.8 125.2L79.3 125.1L81.8 124.9L84.2 124.6L86.7 124.1L89.1 123.5" stroke="#9f9f9f" stroke-width="1.4" opacity="0.15"/><path d="M43.3 63.9L43.4 66.4L43.5 68.9L43.9 71.4L44.3 73.9L44.7 76.3L45.3 78.8L46.0 81.2L46.9 83.5" stroke="#9a9a9a" stroke-width="1.2" opacity="0.20"/><path d="M76.8 7.3L74.6 8.4L72.4 9.6L70.2 10.9L68.1 12.2L66.0 13.6L64.0 15.0L61.9 16.5L60.0 18.0" stroke="#b0b0b0" stroke-width="1.3" opacity="0.20"/><path d="M58.8 15.5L57.0 17.2L55.2 19.0L53.4 20.7L51.7 22.6" stroke="#a2a2a2" stroke-width="0.7" opacity="0.10"/><path d="M49.6 109.1L51.7 110.5L53.9 111.7L56.1 112.9L58.3 114.1" stroke="#8c8c8c" stroke-width="1.3" opacity="0.12"/><path d="M73.7 92.6L76.1 93.5L78.5 94.1L80.9 94.8L83.4 95.1" stroke="#a4a4a4" stroke-width="1.1" opacity="0.07"/><path d="M63.3 142.3L65.8 142.4L68.3 142.5L70.8 142.5L73.3 142.4L75.8 142.3L78.3 142.1" stroke="#929292" stroke-width="1.2" opacity="0.10"/><path d="M13.2 6.2L12.1 8.4L11.0 10.7L9.9 13.0L8.9 15.2" stroke="#b0b0b0" stroke-width="1.2" opacity="0.15"/><path d="M9.7 -10.8L8.4 -8.7L7.2 -6.5L5.9 -4.4L4.7 -2.2L3.6 0.0L2.4 2.3L1.3 4.5L0.3 6.8" stroke="#ababab" stroke-width="0.7" opacity="0.12"/><path d="M39.6 2.7L38.0 4.6L36.5 6.6L35.0 8.6L33.5 10.6L32.1 12.6L30.7 14.7L29.3 16.8L28.1 19.0" stroke="#9b9b9b" stroke-width="0.8" opacity="0.13"/><path d="M1.1 119.9L1.6 122.3L2.4 124.7L3.7 126.8L4.9 129.0L6.6 130.9L8.6 132.4" stroke="#101010" stroke-width="0.7" opacity="0.05"/><path d="M-3.8 124.8L-2.7 127.1L-1.3 129.2L0.3 131.1L2.2 132.7L4.1 134.4L6.1 135.8L8.4 136.8L10.8 137.5" stroke="#b3b3b3" stroke-width="0.8" opacity="0.10"/><path d="M73.3 137.9L75.8 137.7L78.3 137.4L80.8 137.0L83.3 136.7L85.7 136.2L88.1 135.6" stroke="#0b0b0b" stroke-width="1.1" opacity="0.08"/><path d="M30.3 31.9L29.4 34.3L28.6 36.6L27.8 39.0L27.2 41.4L26.5 43.8L25.9 46.3L25.4 48.7L25.0 51.2" stroke="#afafaf" stroke-width="0.7" opacity="0.11"/><path d="M54.6 14.0L52.9 15.8L51.1 17.6L49.5 19.5L47.9 21.4L46.4 23.4L44.9 25.4L43.5 27.4L42.1 29.5L40.8 31.7L39.6 33.9" stroke="#a5a5a5" stroke-width="1.0" opacity="0.09"/><path d="M50.9 52.8L50.3 55.2L49.6 57.6" stroke="#b0b0b0" stroke-width="0.7" opacity="0.12"/><path d="M24.4 32.9L23.6 35.3L22.9 37.7L22.2 40.1L21.6 42.5" stroke="#a9a9a9" stroke-width="0.6" opacity="0.12"/><path d="M100.3 8.9L97.8 9.2L95.3 9.6L92.9 10.0L90.4 10.5" stroke="#080808" stroke-width="1.3" opacity="0.08"/><path d="M114.2 19.9L111.7 19.6L109.3 19.4L106.8 19.2L104.3 19.1" stroke="#0f0f0f" stroke-width="0.7" opacity="0.12"/><path d="M131.9 74.7L130.9 72.4L129.8 70.2L128.7 67.9L127.5 65.7" stroke="#929292" stroke-width="0.7" opacity="0.16"/><path d="M123.1 87.3L122.9 84.8L122.6 82.3L122.2 79.8L121.7 77.4" stroke="#a7a7a7" stroke-width="1.3" opacity="0.11"/><path d="M12.1 64.0L12.4 66.4L12.8 68.9L13.3 71.4L13.7 73.8L14.3 76.3L14.9 78.7" stroke="#aeaeae" stroke-width="1.1" opacity="0.13"/><path d="M82.3 37.8L80.1 39.0L77.9 40.3L75.9 41.7L73.8 43.1L71.8 44.6L70.0 46.2" stroke="#949494" stroke-width="0.8" opacity="0.18"/><path d="M96.6 10.4L94.1 10.8L91.7 11.4L89.2 12.0L86.8 12.6L84.4 13.4L82.1 14.2" stroke="#a2a2a2" stroke-width="0.6" opacity="0.12"/><path d="M42.3 25.0L41.0 27.1L39.8 29.3L38.6 31.4L37.4 33.6" stroke="#0c0c0c" stroke-width="1.3" opacity="0.08"/><path d="M96.5 130.9L98.7 129.7L100.9 128.5L103.0 127.1L105.0 125.7L107.1 124.2L109.1 122.7L110.9 121.1L112.7 119.3" stroke="#989898" stroke-width="1.1" opacity="0.08"/><path d="M96.8 46.5L94.3 46.7L91.8 47.1L89.4 47.6L86.9 48.2L84.6 48.9L82.2 49.9" stroke="#ababab" stroke-width="1.3" opacity="0.07"/><path d="M43.2 84.0L44.3 86.2L45.5 88.4L46.8 90.6L48.1 92.7" stroke="#b4b4b4" stroke-width="1.1" opacity="0.17"/><path d="M3.9 -2.6L2.8 -0.4L1.7 1.9L0.6 4.1L-0.4 6.4" stroke="#999999" stroke-width="0.5" opacity="0.13"/><path d="M37.4 85.4L38.5 87.6L39.7 89.8L41.0 91.9L42.3 94.1" stroke="#141414" stroke-width="0.7" opacity="0.10"/><path d="M53.7 93.0L55.4 94.8L57.2 96.5L59.0 98.2L60.9 99.8" stroke="#b0b0b0" stroke-width="0.8" opacity="0.17"/><path d="M2.2 114.0L1.8 116.5L1.7 119.0L2.0 121.5L2.4 124.0L3.1 126.3L4.3 128.6" stroke="#979797" stroke-width="1.2" opacity="0.05"/><path d="M19.5 138.0L21.6 136.6L23.3 134.8L24.6 132.7L25.6 130.3L26.5 128.0L26.9 125.5L26.7 123.1L25.9 120.7" stroke="#aaaaaa" stroke-width="1.2" opacity="0.07"/><path d="M115.0 38.0L112.6 37.3L110.2 36.6" stroke="#101010" stroke-width="1.1" opacity="0.12"/><path d="M93.4 121.6L95.6 120.5L97.8 119.3L99.9 117.9L102.0 116.6L104.1 115.1L106.0 113.6" stroke="#8f8f8f" stroke-width="0.9" opacity="0.16"/><path d="M63.0 131.8L65.5 132.1L68.0 132.3L70.5 132.5L73.0 132.6" stroke="#060606" stroke-width="1.2" opacity="0.10"/><path d="M30.8 63.9L31.0 66.4L31.3 68.9L31.7 71.4L32.2 73.8L32.8 76.3L33.3 78.7L34.1 81.1L34.9 83.5L35.8 85.8L36.8 88.1" stroke="#a4a4a4" stroke-width="0.6" opacity="0.11"/><path d="M47.5 51.6L46.9 54.0L46.3 56.5L45.8 58.9L45.5 61.4" stroke="#929292" stroke-width="1.1" opacity="0.16"/><path d="M32.6 24.7L31.5 26.9L30.4 29.2L29.5 31.5L28.5 33.8L27.6 36.1L26.8 38.5" stroke="#b5b5b5" stroke-width="0.8" opacity="0.12"/><path d="M127.7 18.7L125.3 18.0L122.9 17.4L120.5 16.8L118.0 16.3L115.6 15.9L113.1 15.5" stroke="#b0b0b0" stroke-width="1.2" opacity="0.15"/><path d="M16.4 87.2L17.5 89.5L18.6 91.7L19.8 93.9L21.0 96.1L22.3 98.3L23.6 100.4" stroke="#adadad" stroke-width="0.6" opacity="0.18"/><path d="M38.0 44.1L37.3 46.5L36.7 49.0L36.1 51.4L35.6 53.8" stroke="#989898" stroke-width="1.1" opacity="0.10"/><path d="M62.9 9.5L61.0 11.0L59.0 12.6L57.1 14.2L55.2 15.8" stroke="#9c9c9c" stroke-width="0.6" opacity="0.10"/><path d="M-10.0 135.2L-8.2 136.9L-6.3 138.5L-4.4 140.2L-2.5 141.7L-0.5 143.3L1.4 144.9L3.4 146.4L5.5 147.8" stroke="#ababab" stroke-width="1.0" opacity="0.20"/><path d="M10.5 60.4L10.7 62.9L11.0 65.3L11.3 67.8L11.7 70.3L12.1 72.8L12.6 75.2" stroke="#a4a4a4" stroke-width="1.3" opacity="0.08"/><path d="M21.0 -8.3L19.6 -6.2L18.2 -4.2L16.8 -2.1L15.5 0.1L14.2 2.2L12.9 4.4L11.7 6.6L10.6 8.8" stroke="#0d0d0d" stroke-width="1.1" opacity="0.06"/><path d="M111.2 135.4L113.1 133.8L115.0 132.1L116.8 130.5L118.6 128.7" stroke="#1a1a1a" stroke-width="0.8" opacity="0.10"/><path d="M26.1 119.9L24.2 118.3L22.0 117.2L19.7 116.2L17.2 115.9" stroke="#a4a4a4" stroke-width="1.2" opacity="0.07"/><path d="M34.3 -3.8L32.7 -1.9L31.2 0.1L29.7 2.1L28.2 4.1L26.7 6.1L25.3 8.2" stroke="#b0b0b0" stroke-width="1.3" opacity="0.16"/><path d="M132.2 75.4L131.2 73.1L130.1 70.8L129.0 68.6L127.8 66.4L126.4 64.3L125.0 62.3" stroke="#999999" stroke-width="0.6" opacity="0.15"/><path d="M100.2 18.9L97.7 19.2L95.3 19.6L92.8 20.0L90.3 20.5L87.9 21.1L85.5 21.8" stroke="#070707" stroke-width="0.9" opacity="0.05"/><path d="M21.4 100.2L22.8 102.2L24.3 104.2" stroke="#1b1b1b" stroke-width="0.9" opacity="0.06"/><path d="M32.2 86.7L33.3 88.9L34.5 91.1L35.9 93.2L37.2 95.3L38.6 97.4L40.1 99.4" stroke="#9b9b9b" stroke-width="1.1" opacity="0.13"/><path d="M108.4 132.0L110.3 130.4L112.2 128.8L114.1 127.2L115.9 125.4" stroke="#9f9f9f" stroke-width="0.8" opacity="0.15"/><path d="M26.2 4.3L24.8 6.4L23.5 8.5L22.2 10.6L20.9 12.8" stroke="#b6b6b6" stroke-width="1.3" opacity="0.19"/><path d="M128.4 143.1L130.0 141.2L131.6 139.3L133.1 137.3L134.6 135.3L136.0 133.3L137.4 131.2" stroke="#070707" stroke-width="1.0" opacity="0.10"/><path d="M35.1 67.7L35.4 70.2L35.8 72.7L36.4 75.1L37.0 77.5L37.8 79.9L38.6 82.3L39.4 84.6L40.4 86.9L41.5 89.2L42.8 91.3" stroke="#a8a8a8" stroke-width="0.8" opacity="0.12"/><path d="M125.5 0.8L123.0 0.4L120.5 0.1L118.1 -0.2L115.6 -0.4" stroke="#a0a0a0" stroke-width="1.1" opacity="0.09"/><path d="M46.1 74.2L46.7 76.6L47.5 79.0L48.3 81.3L49.2 83.7L50.2 85.9L51.4 88.2" stroke="#a5a5a5" stroke-width="0.6" opacity="0.13"/><path d="M8.3 69.1L8.8 71.5L9.4 74.0L9.9 76.4L10.5 78.8" stroke="#a4a4a4" stroke-width="1.0" opacity="0.11"/><path d="M10.7 64.0L11.1 66.5L11.4 68.9L11.9 71.4L12.4 73.8L12.9 76.3L13.5 78.7" stroke="#9e9e9e" stroke-width="0.9" opacity="0.09"/><path d="M119.4 86.7L119.2 84.2L118.8 81.7L118.3 79.3L117.5 76.9L116.7 74.5L115.8 72.2L114.6 70.0L113.3 67.9" stroke="#080808" stroke-width="1.1" opacity="0.07"/><path d="M15.1 112.4L13.1 113.8L11.5 115.7L10.4 118.0L9.3 120.2L8.9 122.7L9.3 125.1" stroke="#b6b6b6" stroke-width="1.2" opacity="0.08"/><path d="M17.6 109.1L15.2 110.0L12.9 110.9" stroke="#9c9c9c" stroke-width="1.0" opacity="0.05"/><path d="M29.2 30.6L28.3 32.9L27.4 35.3L26.7 37.7L26.0 40.1L25.3 42.5L24.7 44.9L24.2 47.3L23.8 49.8" stroke="#b3b3b3" stroke-width="1.3" opacity="0.15"/><path d="M65.2 130.5L67.7 130.7L70.2 130.8L72.7 130.9L75.2 130.8L77.7 130.7L80.2 130.5L82.7 130.2L85.1 129.8" stroke="#adadad" stroke-width="1.2" opacity="0.12"/><path d="M87.0 118.9L89.4 118.2L91.7 117.3L94.1 116.4L96.4 115.3" stroke="#acacac" stroke-width="1.1" opacity="0.19"/><path d="M1.3 82.3L2.1 84.7L3.0 87.0" stroke="#afafaf" stroke-width="1.3" opacity="0.09"/><path d="M95.9 32.5L93.5 32.9L91.0 33.4L88.6 33.9L86.1 34.6" stroke="#b1b1b1" stroke-width="0.6" opacity="0.15"/><path d="M2.8 3.0L1.8 5.3L0.8 7.6L-0.2 9.9L-1.1 12.2L-1.9 14.6L-2.8 16.9L-3.6 19.3L-4.3 21.7" stroke="#a4a4a4" stroke-width="1.1" opacity="0.11"/><path d="M56.6 10.1L54.8 11.8L53.0 13.5L51.3 15.3L49.6 17.2L47.9 19.0L46.3 21.0L44.7 22.9L43.3 24.9" stroke="#aaaaaa" stroke-width="1.4" opacity="0.18"/><path d="M-1.7 41.3L-1.9 43.8L-2.1 46.3L-2.2 48.8L-2.3 51.3" stroke="#b2b2b2" stroke-width="0.5" opacity="0.18"/><path d="M29.2 122.3L27.8 120.2L26.1 118.4L24.0 117.0L21.6 116.2L19.3 115.4L16.8 115.3L14.4 115.9L12.2 117.2" stroke="#a1a1a1" stroke-width="1.3" opacity="0.05"/><path d="M44.6 121.1L46.8 122.2L49.0 123.3L51.4 124.2L53.7 125.2L56.0 126.1L58.4 126.9" stroke="#9b9b9b" stroke-width="1.3" opacity="0.11"/><path d="M83.6 0.6L81.2 1.5L78.9 2.4L76.6 3.4L74.3 4.4" stroke="#a1a1a1" stroke-width="0.8" opacity="0.15"/><path d="M51.4 -8.1L49.5 -6.5L47.6 -4.8L45.8 -3.1L43.9 -1.4L42.2 0.3L40.4 2.2" stroke="#8d8d8d" stroke-width="1.4" opacity="0.14"/><path d="M6.1 8.1L5.1 10.4L4.1 12.7L3.2 15.1L2.4 17.4L1.5 19.8L0.8 22.2L0.0 24.5L-0.6 26.9" stroke="#989898" stroke-width="0.7" opacity="0.14"/><path d="M95.9 129.3L98.1 128.2L100.3 126.9L102.4 125.6L104.5 124.2L106.5 122.7L108.5 121.2L110.4 119.5L112.2 117.8" stroke="#a8a8a8" stroke-width="0.8" opacity="0.12"/><path d="M99.7 129.9L101.9 128.6L103.9 127.3L106.0 125.8L107.9 124.2L109.8 122.6L111.7 121.0L113.5 119.2L115.2 117.4" stroke="#999999" stroke-width="1.2" opacity="0.17"/><path d="M64.3 85.6L65.8 87.5L67.6 89.3L69.4 91.1L71.3 92.7" stroke="#9e9e9e" stroke-width="0.8" opacity="0.05"/><path d="M34.5 138.3L36.8 139.4L39.1 140.3L41.5 141.2L43.8 142.1L46.2 142.9L48.6 143.6" stroke="#979797" stroke-width="0.8" opacity="0.11"/><path d="M20.7 -11.2L19.2 -9.2L17.8 -7.1L16.4 -5.0L15.1 -2.9L13.7 -0.8L12.5 1.3L11.2 3.5L10.0 5.7" stroke="#a0a0a0" stroke-width="0.8" opacity="0.15"/><path d="M22.4 1.5L21.1 3.6L19.8 5.7L18.5 7.9L17.2 10.1" stroke="#acacac" stroke-width="1.3" opacity="0.15"/><path d="M37.2 128.1L39.4 129.2L41.6 130.3L43.9 131.3L46.2 132.3L48.5 133.3L50.9 134.1" stroke="#949494" stroke-width="1.4" opacity="0.15"/><path d="M40.5 105.0L42.3 106.7L44.2 108.3L46.2 109.8L48.2 111.3L50.3 112.7L52.4 114.0" stroke="#070707" stroke-width="1.3" opacity="0.08"/><path d="M35.8 31.5L34.8 33.8L33.8 36.1" stroke="#989898" stroke-width="0.7" opacity="0.16"/><path d="M57.3 19.9L55.5 21.7L53.8 23.5L52.2 25.4L50.6 27.3L49.1 29.3L47.6 31.3" stroke="#161616" stroke-width="1.2" opacity="0.06"/><path d="M131.8 86.8L131.5 84.3L131.2 81.8" stroke="#1b1b1b" stroke-width="0.6" opacity="0.07"/><path d="M20.8 65.0L21.1 67.5L21.4 70.0L21.9 72.4L22.5 74.9L23.0 77.3L23.7 79.7L24.4 82.1L25.3 84.5" stroke="#b4b4b4" stroke-width="0.8" opacity="0.11"/><path d="M97.0 97.4L98.7 95.5L100.2 93.5L101.4 91.3L102.6 89.1L103.6 86.8L104.2 84.4" stroke="#9b9b9b" stroke-width="0.9" opacity="0.05"/><path d="M0.6 83.4L1.4 85.7L2.4 88.0L3.3 90.3L4.4 92.6" stroke="#a6a6a6" stroke-width="0.9" opacity="0.11"/><path d="M-6.8 126.1L-5.1 127.9L-3.7 130.0L-2.1 131.9L-0.5 133.8L1.3 135.6L3.4 137.0" stroke="#070707" stroke-width="1.2" opacity="0.05"/><path d="M45.6 6.0L43.9 7.8L42.3 9.7L40.7 11.6L39.1 13.6" stroke="#aeaeae" stroke-width="1.2" opacity="0.09"/><path d="M54.7 67.7L54.8 70.2L55.1 72.7L55.5 75.1L56.0 77.6L56.7 80.0L57.5 82.4" stroke="#a9a9a9" stroke-width="0.8" opacity="0.09"/><path d="M110.2 34.6L107.8 34.2L105.3 34.0L102.8 33.9L100.3 33.9L97.8 33.9L95.3 34.0L92.8 34.3L90.3 34.7" stroke="#191919" stroke-width="1.2" opacity="0.07"/><path d="M136.2 66.8L134.9 64.6L133.5 62.6L132.1 60.5L130.6 58.5" stroke="#b5b5b5" stroke-width="0.5" opacity="0.10"/><path d="M56.7 84.5L58.1 86.6L59.5 88.6L61.2 90.5L62.9 92.3L64.7 94.0L66.6 95.6L68.7 97.1L70.9 98.3" stroke="#b7b7b7" stroke-width="1.2" opacity="0.06"/><path d="M11.1 -4.2L9.9 -2.1L8.7 0.1L7.4 2.3L6.3 4.5" stroke="#a2a2a2" stroke-width="0.7" opacity="0.15"/><path d="M132.0 53.0L130.2 51.3L128.2 49.7L126.3 48.1L124.3 46.6" stroke="#acacac" stroke-width="0.6" opacity="0.19"/><path d="M2.3 105.8L1.1 108.0L0.1 110.3L-0.9 112.6L-1.6 115.0" stroke="#121212" stroke-width="0.8" opacity="0.05"/><path d="M112.3 66.9L110.6 65.2L108.6 63.6L106.7 62.0L104.6 60.6" stroke="#080808" stroke-width="0.6" opacity="0.06"/><path d="M96.6 53.3L94.1 53.4L91.6 53.7L89.2 54.2L86.8 55.0L84.4 55.8L82.2 56.9L80.0 58.2L78.1 59.7" stroke="#a5a5a5" stroke-width="1.3" opacity="0.08"/><path d="M129.0 93.1L129.0 90.6L129.0 88.1L128.9 85.6L128.7 83.1" stroke="#989898" stroke-width="0.7" opacity="0.13"/><path d="M31.7 109.9L29.4 108.8L27.0 108.0L24.6 107.5L22.1 107.0L19.6 106.9L17.2 107.1" stroke="#b7b7b7" stroke-width="1.0" opacity="0.06"/><path d="M38.2 37.6L37.3 39.9L36.5 42.3L35.8 44.7L35.0 47.1L34.4 49.5L33.9 52.0" stroke="#090909" stroke-width="1.0" opacity="0.10"/><path d="M57.2 71.5L57.5 73.9L58.1 76.4L58.8 78.8L59.7 81.1L60.7 83.4L61.8 85.6L63.1 87.8L64.6 89.8" stroke="#b3b3b3" stroke-width="1.2" opacity="0.07"/></g>
<ellipse cx="7" cy="131" rx="10" ry="9" fill="#8f8f8f" opacity="1" filter="url(#b3)"/>
<ellipse cx="17" cy="123.7" rx="6" ry="5.5" fill="#b2b2b2" opacity="1" filter="url(#b1_8)"/>
<ellipse cx="17" cy="123.7" rx="3.6" ry="3.6" fill="#ffffff" opacity="1" filter="url(#b1)"/>
<path d="M30 133Q44 134 56 128" fill="none" stroke="#6b6b6b" stroke-width="3" stroke-linecap="round" stroke-linejoin="round" opacity="1" filter="url(#b1_5)"/>
</g>
</g></g>
<g id="mg"><ellipse cx="104.6" cy="77" rx="4.6" ry="12" transform="rotate(-8 104.6 77)" fill="#fee838" opacity="0.5" filter="url(#b2_5)"/><ellipse cx="93" cy="66" rx="5" ry="6" fill="#fee838" opacity="0.35" filter="url(#b2_5)"/></g>
<g id="mp"><g clip-path="url(#mclip)">
<g filter="url(#fp)">
<path d="M70 36.5L78 37L86 39L94 40.5L101 41L107 42.5L109 43.5L107 47L104 52L103 58L100 63L98 68L97 73L97.5 79L98 85L96 89L92 89.5L89 87L87 82L84.5 78L82 74L79 69L78 62L77 57L73 54L70 51L67 48L66 44L68 39Z" fill="#fff" opacity="0.28" filter="url(#b0_6)"/>
<ellipse cx="108.6" cy="74" rx="1.9" ry="6.5" fill="#fff" opacity="0.28" transform="rotate(-8 108.6 74)" filter="url(#b0_5)"/>
<ellipse cx="110" cy="85" rx="1.3" ry="3.2" fill="#fff" opacity="0.28" transform="rotate(-10 110 85)" filter="url(#b0_5)"/>
<ellipse cx="105" cy="63" rx="2.3" ry="3" fill="#fff" opacity="0.28" filter="url(#b0_6)"/>
<ellipse cx="91" cy="88.5" rx="3.5" ry="2.6" fill="#fff" opacity="0.28" filter="url(#b0_6)"/>
<path d="M80 44L86 43.5L92 46L93 50L91 56L91 61L95 65L98 71L95 77L90 79L86.5 76L84.5 72L82.5 66L82 58L81.5 51Z" fill="#fff" opacity="0.2" filter="url(#b1_3)"/>
<path d="M84 50L88.5 48L91 51L89.5 58L90.5 63L95 68L95.5 73L92 77L89 76L86.5 72L85 66L84.5 58Z" fill="#fff" opacity="0.35" filter="url(#b1_3)"/>
<ellipse cx="91.5" cy="70.8" rx="5.0" ry="5.4" fill="#fff" opacity="0.5" transform="rotate(-20 91.5 70.8)" filter="url(#b1_4)"/>
<path d="M67 46.5L73 50" fill="none" stroke="#fff" stroke-width="2.4" stroke-linecap="round" stroke-linejoin="round" opacity="0.33" filter="url(#b0_7)"/>
<path d="M92.8 78L94.5 84" fill="none" stroke="#fff" stroke-width="1.5" stroke-linecap="round" stroke-linejoin="round" opacity="0.5" filter="url(#b0_6)"/>
<ellipse cx="100" cy="50" rx="1.2" ry="1.2" fill="#fff" opacity="0.5" filter="url(#b0_5)"/>
<ellipse cx="104" cy="47" rx="1.0" ry="1.0" fill="#fff" opacity="0.5" filter="url(#b0_5)"/>
<ellipse cx="97" cy="56" rx="1.2" ry="1.0" fill="#fff" opacity="0.5" filter="url(#b0_5)"/>
<path d="M0.5 130L10 127.5L22 128L35.5 128.5L36 133L22 136.5L8 137L0 138.5Z" fill="#fff" opacity="0.28" filter="url(#b0_6)"/>
<path d="M10 126L11 118L15 112L22 109L32 108.5L36 111L38 118L39 124L37 130L30 129L20 129Z" fill="#fff" opacity="0.28" filter="url(#b0_6)"/>
<ellipse cx="38" cy="110.5" rx="4.5" ry="5" fill="#fff" opacity="0.28" filter="url(#b0_5)"/>
<ellipse cx="44.5" cy="109.5" rx="4.5" ry="4" fill="#fff" opacity="0.28" filter="url(#b0_5)"/>
<ellipse cx="51" cy="112" rx="4.5" ry="3.6" fill="#fff" opacity="0.28" filter="url(#b0_5)"/>
<ellipse cx="57.5" cy="115" rx="4.2" ry="3.2" fill="#fff" opacity="0.28" filter="url(#b0_5)"/>
<ellipse cx="62.5" cy="118" rx="3" ry="2.8" fill="#fff" opacity="0.28" filter="url(#b0_5)"/>
<ellipse cx="44" cy="118" rx="5" ry="3.2" fill="#fff" opacity="0.28" filter="url(#b0_5)"/>
<ellipse cx="51.5" cy="119.5" rx="4" ry="2.3" fill="#fff" opacity="0.28" filter="url(#b0_5)"/>
<ellipse cx="40" cy="124" rx="2.6" ry="3" fill="#fff" opacity="0.28" filter="url(#b0_5)"/>
<path d="M61 124L69 129" fill="none" stroke="#fff" stroke-width="5" stroke-linecap="round" stroke-linejoin="round" opacity="0.28" filter="url(#b0_6)"/>
<ellipse cx="8.5" cy="107.5" rx="2.2" ry="2.2" fill="#fff" opacity="0.28" filter="url(#b0_5)"/>
<ellipse cx="17" cy="123.7" rx="4.6" ry="4.4" fill="#fff" opacity="0.85" filter="url(#b1)"/>
<path d="M19 122.5Q27 121.5 36 126" fill="none" stroke="#fff" stroke-width="4.0" stroke-linecap="round" stroke-linejoin="round" opacity="0.42" filter="url(#b1)"/>
<path d="M11 133.5Q20 130.5 33 132" fill="none" stroke="#fff" stroke-width="2.4" stroke-linecap="round" stroke-linejoin="round" opacity="0.2" filter="url(#b0_9)"/>
<path d="M50 114L55 116" fill="none" stroke="#fff" stroke-width="1.8" stroke-linecap="round" stroke-linejoin="round" opacity="0.22" filter="url(#b0_7)"/>
<path d="M62 125.5L66 127.5" fill="none" stroke="#fff" stroke-width="2.2" stroke-linecap="round" stroke-linejoin="round" opacity="0.4" filter="url(#b0_7)"/>
<path d="M89.5 102.5L85.5 109L80.5 118L77 125" fill="none" stroke="#fff" stroke-width="2.2" stroke-linecap="round" stroke-linejoin="round" opacity="0.28" filter="url(#b0_5)"/>
<path d="M84.5 111L80 120" fill="none" stroke="#fff" stroke-width="0.9" stroke-linecap="round" stroke-linejoin="round" opacity="0.35" filter="url(#b0_5)"/>
<ellipse cx="99.5" cy="112" rx="5.5" ry="2.6" fill="#fff" opacity="0.28" transform="rotate(-38 99.5 112)" filter="url(#b0_5)"/>
<ellipse cx="112" cy="98" rx="4.2" ry="2.3" fill="#fff" opacity="0.28" transform="rotate(42 112 98)" filter="url(#b0_5)"/>
<ellipse cx="86.5" cy="110" rx="1.6" ry="6.5" fill="#fff" opacity="0.28" transform="rotate(28 86.5 110)" filter="url(#b0_5)"/>
<ellipse cx="84" cy="136" rx="3.5" ry="2" fill="#fff" opacity="0.28" filter="url(#b0_5)"/>
<ellipse cx="131" cy="33" rx="2" ry="1" fill="#fff" opacity="0.28" filter="url(#b0_4)"/>
<ellipse cx="88" cy="91" rx="1.6" ry="1.6" fill="#fff" opacity="0.28" filter="url(#b0_4)"/>
</g>
<path d="M133.0 32.0 129.0 33.1 127.5 34.2 127.5 35.4 127.1 38.1 126.0 39.3 124.1 41.0 121.8 38.9 123.3 41.6 123.3 43.6 121.4 46.7 120.3 47.8 119.9 45.1 120.6 44.0 119.1 42.8 119.5 40.8 119.9 39.1 118.4 40.1 118.0 42.0 118.4 43.6 116.1 43.6 118.8 45.1 116.5 46.3 118.8 47.1 117.6 48.2 118.8 48.8 119.9 49.0 121.0 52.5 121.8 55.4 118.8 56.8 118.0 58.0 115.3 58.0 112.7 60.7 110.0 60.9 108.1 63.0 105.1 65.4 101.6 67.7 99.8 70.8 99.4 73.1 99.8 76.2 101.3 79.7 102.6 82.1 103.5 85.6 104.5 88.3 104.3 92.2 103.2 94.5 100.5 94.9 98.2 91.8 97.1 89.5 95.9 87.9 94.4 84.8 95.2 84.0 94.0 82.9 94.4 80.1 92.5 78.2 90.6 76.2 88.7 75.7 86.1 77.0 84.5 77.0 83.0 75.5 80.0 74.3 76.2 74.7 74.3 74.9 74.3 73.1 73.5 74.5 70.9 74.3 68.2 75.1 69.0 76.6 69.0 79.0 70.1 79.7 68.2 78.6 65.9 79.4 63.3 79.4 61.4 77.8 58.3 77.6 54.1 76.8 52.1 77.0 48.8 78.2 46.5 80.1 42.4 82.1 40.1 84.0 38.6 86.7 39.3 91.4 37.4 95.3 37.0 99.2 37.0 105.8 38.9 110.9 42.0 115.5 43.5 117.9 45.0 119.8 48.4 120.6 50.0 122.0 55.3 121.0 59.1 120.0 61.4 119.4 64.0 117.5 64.8 115.1 65.2 111.6 66.7 110.3 71.2 108.9 76.2 108.9 78.8 109.3 78.8 110.9 76.6 113.6 76.2 116.3 75.4 119.8 74.3 120.6 73.5 124.1 73.1 128.4 70.9 130.7 73.5 131.5 76.2 131.1 80.4 131.1 82.3 130.5 85.7 130.5 88.3 131.1 91.8 133.2 92.5 134.6 91.8 138.9 M-1.7 96.5 4.4 102.3 7.0 105.0 8.5 108.9 7.8 111.6 8.9 112.4 7.0 113.2 9.7 117.1 12.3 118.6 15.4 121.4 20.3 122.7 24.9 125.3 29.1 127.0 34.4 129.1 40.1 130.5 43.9 131.5 46.9 129.7 49.6 129.5 51.9 130.3 55.3 133.0 58.3 136.2 61.4 138.5 M85.9 107.5 89.5 104.3 92.5 103.1 95.6 102.5 100.1 102.5 102.8 103.1 106.6 104.6 111.1 105.4 115.3 107.9 119.9 110.1 123.7 112.0 126.9 113.8 125.2 114.6 121.0 114.9 116.1 115.1 113.4 115.3 115.3 112.4 112.3 112.0 110.4 110.9 106.6 108.1 102.8 106.8 97.8 106.2 97.1 105.4 94.0 104.4 91.8 106.2 89.5 107.2 87.6 107.8Z M92.9 107.8 94.4 107.2 95.0 108.5 93.7 109.1Z M111.0 121.6 112.7 120.6 116.1 121.0 118.8 122.0 119.1 122.9 116.5 123.1 113.4 123.1Z M133.6 115.1 129.8 115.3 132.0 117.1 132.2 118.6 133.6 120.2 M133.6 121.6 129.4 120.4 125.8 120.2 126.0 121.4 128.2 122.3 133.6 122.0 M112.3 94.5 113.4 96.9 113.8 99.2 112.3 98.4 111.1 96.1Z M108.9 89.1 112.3 88.5 112.7 89.1 109.6 89.5Z M114.9 87.9 116.1 89.9 115.3 91.8 114.6 90.2Z M117.2 93.4 119.1 94.9 119.3 96.5 118.4 95.3Z M121.0 96.9 122.5 98.4 122.2 98.8 120.6 97.6Z M122.9 100.8 124.1 102.7 123.7 103.1 122.5 101.5Z M128.6 110.5 130.9 109.7 131.3 110.9 129.4 111.3Z M127.5 104.3 127.9 105.8 126.3 106.2Z M127.5 34.6 130.2 34.4 133.6 33.5 M133.6 32.5 129.0 33.5 M133.6 10.9 129.4 14.8 126.3 16.3 122.5 17.9" fill="none" stroke="#05050c" stroke-width="0.38" stroke-linejoin="round" opacity="0.9"/>
<rect x="90.4" y="52.5" width="7.6" height="4.4" fill="none" stroke="#fff" stroke-width="0.45" opacity="0.9"/>
</g></g>
</defs>
<rect x="5.45" y="5.45" width="489.05" height="32.05" rx="7" ry="7" fill="none" stroke="#151515" stroke-width="1.0" stroke-dasharray="1.25 1.0"/>
<text x="13.8" y="24.3" font-size="9.1" fill="#222" textLength="66.2" lengthAdjust="spacingAndGlyphs" stroke="#222" stroke-width="0.32">Precipitation (mm)</text>
<path d="M85.5 18H215L222 20.6L215 23.3H85.5Z" fill="url(#gp)"/>
<line x1="85.50" x2="85.50" y1="23.3" y2="24.6" stroke="#555" stroke-width="0.35"/>
<text x="85.50" y="30.0" font-size="5.9" fill="#2a2a2a" text-anchor="middle" textLength="7.0" lengthAdjust="spacingAndGlyphs">0.5</text>
<line x1="99.89" x2="99.89" y1="23.3" y2="24.6" stroke="#555" stroke-width="0.35"/>
<text x="99.89" y="30.0" font-size="5.9" fill="#2a2a2a" text-anchor="middle" textLength="7.0" lengthAdjust="spacingAndGlyphs">1.0</text>
<line x1="114.28" x2="114.28" y1="23.3" y2="24.6" stroke="#555" stroke-width="0.35"/>
<text x="114.28" y="30.0" font-size="5.9" fill="#2a2a2a" text-anchor="middle" textLength="7.0" lengthAdjust="spacingAndGlyphs">1.5</text>
<line x1="128.67" x2="128.67" y1="23.3" y2="24.6" stroke="#555" stroke-width="0.35"/>
<text x="128.67" y="30.0" font-size="5.9" fill="#2a2a2a" text-anchor="middle" textLength="7.0" lengthAdjust="spacingAndGlyphs">2.0</text>
<line x1="143.06" x2="143.06" y1="23.3" y2="24.6" stroke="#555" stroke-width="0.35"/>
<text x="143.06" y="30.0" font-size="5.9" fill="#2a2a2a" text-anchor="middle" textLength="7.0" lengthAdjust="spacingAndGlyphs">2.5</text>
<line x1="157.45" x2="157.45" y1="23.3" y2="24.6" stroke="#555" stroke-width="0.35"/>
<text x="157.45" y="30.0" font-size="5.9" fill="#2a2a2a" text-anchor="middle" textLength="7.0" lengthAdjust="spacingAndGlyphs">3.0</text>
<line x1="171.84" x2="171.84" y1="23.3" y2="24.6" stroke="#555" stroke-width="0.35"/>
<text x="171.84" y="30.0" font-size="5.9" fill="#2a2a2a" text-anchor="middle" textLength="7.0" lengthAdjust="spacingAndGlyphs">3.5</text>
<line x1="186.23" x2="186.23" y1="23.3" y2="24.6" stroke="#555" stroke-width="0.35"/>
<text x="186.23" y="30.0" font-size="5.9" fill="#2a2a2a" text-anchor="middle" textLength="7.0" lengthAdjust="spacingAndGlyphs">4.0</text>
<line x1="200.62" x2="200.62" y1="23.3" y2="24.6" stroke="#555" stroke-width="0.35"/>
<text x="200.62" y="30.0" font-size="5.9" fill="#2a2a2a" text-anchor="middle" textLength="7.0" lengthAdjust="spacingAndGlyphs">4.5</text>
<line x1="215.01" x2="215.01" y1="23.3" y2="24.6" stroke="#555" stroke-width="0.35"/>
<text x="215.01" y="30.0" font-size="5.9" fill="#2a2a2a" text-anchor="middle" textLength="7.0" lengthAdjust="spacingAndGlyphs">5.0</text>
<text x="273.8" y="24.3" font-size="9.1" fill="#222" textLength="62.5" lengthAdjust="spacingAndGlyphs" stroke="#222" stroke-width="0.32">Wind speed (m/s)</text>
<path d="M342.5 18H472.5L479.5 20.6L472.5 23.3H342.5Z" fill="url(#gw)"/>
<line x1="342.50" x2="342.50" y1="23.3" y2="24.6" stroke="#555" stroke-width="0.35"/>
<text x="342.50" y="30.0" font-size="5.9" fill="#2a2a2a" text-anchor="middle" textLength="2.7" lengthAdjust="spacingAndGlyphs">0</text>
<line x1="364.17" x2="364.17" y1="23.3" y2="24.6" stroke="#555" stroke-width="0.35"/>
<text x="364.17" y="30.0" font-size="5.9" fill="#2a2a2a" text-anchor="middle" textLength="2.7" lengthAdjust="spacingAndGlyphs">5</text>
<line x1="385.84" x2="385.84" y1="23.3" y2="24.6" stroke="#555" stroke-width="0.35"/>
<text x="385.84" y="30.0" font-size="5.9" fill="#2a2a2a" text-anchor="middle" textLength="5.4" lengthAdjust="spacingAndGlyphs">10</text>
<line x1="407.51" x2="407.51" y1="23.3" y2="24.6" stroke="#555" stroke-width="0.35"/>
<text x="407.51" y="30.0" font-size="5.9" fill="#2a2a2a" text-anchor="middle" textLength="5.4" lengthAdjust="spacingAndGlyphs">15</text>
<line x1="429.18" x2="429.18" y1="23.3" y2="24.6" stroke="#555" stroke-width="0.35"/>
<text x="429.18" y="30.0" font-size="5.9" fill="#2a2a2a" text-anchor="middle" textLength="5.4" lengthAdjust="spacingAndGlyphs">20</text>
<line x1="450.85" x2="450.85" y1="23.3" y2="24.6" stroke="#555" stroke-width="0.35"/>
<text x="450.85" y="30.0" font-size="5.9" fill="#2a2a2a" text-anchor="middle" textLength="5.4" lengthAdjust="spacingAndGlyphs">25</text>
<line x1="472.52" x2="472.52" y1="23.3" y2="24.6" stroke="#555" stroke-width="0.35"/>
<text x="472.52" y="30.0" font-size="5.9" fill="#2a2a2a" text-anchor="middle" textLength="5.4" lengthAdjust="spacingAndGlyphs">30</text>
<g transform="translate(0.0 0)">
<rect x="5.5" y="44.3" width="157.3" height="293" rx="8" ry="8" fill="#fff" stroke="#7cc8a8" stroke-width="1.1"/>
<text x="19.4" y="60.2" font-size="9.9" fill="#7cc8a8" font-weight="bold" textLength="21.400000000000002" lengthAdjust="spacingAndGlyphs" stroke="#7cc8a8" stroke-width="0.22">PAST</text>
<text x="151.3" y="60.2" font-size="9.9" fill="#8fd1b5" text-anchor="end" textLength="78.3" lengthAdjust="spacingAndGlyphs" stroke="#8fd1b5" stroke-width="0.16">IFS-FESOM Control</text>
<use href="#mw" x="18.9" y="66.8"/>
<use href="#mp" x="18.9" y="66.8"/>
<text x="16.8" y="105.6" font-size="5.2" fill="#222" text-anchor="end" textLength="9.6" lengthAdjust="spacingAndGlyphs">40°N</text>
<text x="16.8" y="144.5" font-size="5.2" fill="#222" text-anchor="end" textLength="9.6" lengthAdjust="spacingAndGlyphs">30°N</text>
<text x="16.8" y="183.6" font-size="5.2" fill="#222" text-anchor="end" textLength="9.6" lengthAdjust="spacingAndGlyphs">20°N</text>
<text x="48.0" y="212.5" font-size="5.2" fill="#222" text-anchor="middle" textLength="13.0" lengthAdjust="spacingAndGlyphs">100°W</text>
<text x="84.9" y="212.5" font-size="5.2" fill="#222" text-anchor="middle" textLength="10.8" lengthAdjust="spacingAndGlyphs">90°W</text>
<text x="123.4" y="212.5" font-size="5.2" fill="#222" text-anchor="middle" textLength="10.8" lengthAdjust="spacingAndGlyphs">80°W</text>
<text x="20.1" y="230.0" font-size="9.0" fill="#222" textLength="113.8" lengthAdjust="spacingAndGlyphs" stroke="#222" stroke-width="0.32">Accumulated precipitation (mm)</text>
<text x="17.2" y="318.15" font-size="5.5" fill="#222" text-anchor="end" textLength="2.62" lengthAdjust="spacingAndGlyphs">0</text>
<text x="17.2" y="304.38" font-size="5.5" fill="#222" text-anchor="end" textLength="5.24" lengthAdjust="spacingAndGlyphs">50</text>
<text x="17.2" y="290.60" font-size="5.5" fill="#222" text-anchor="end" textLength="7.86" lengthAdjust="spacingAndGlyphs">100</text>
<text x="17.2" y="276.82" font-size="5.5" fill="#222" text-anchor="end" textLength="7.86" lengthAdjust="spacingAndGlyphs">150</text>
<text x="17.2" y="263.05" font-size="5.5" fill="#222" text-anchor="end" textLength="7.86" lengthAdjust="spacingAndGlyphs">200</text>
<text x="17.2" y="249.27" font-size="5.5" fill="#222" text-anchor="end" textLength="7.86" lengthAdjust="spacingAndGlyphs">250</text>
<rect x="20.4" y="247.35" width="13.2" height="68.05" fill="#cfe9dd"/>
<line x1="20.4" x2="33.6" y1="301.5" y2="301.5" stroke="#7cc8a8" stroke-width="0.75" stroke-dasharray="1.6 1.15"/>
<line x1="20.4" x2="33.6" y1="287.5" y2="287.5" stroke="#7cc8a8" stroke-width="0.75" stroke-dasharray="1.6 1.15"/>
<line x1="20.4" x2="33.6" y1="274.5" y2="274.5" stroke="#7cc8a8" stroke-width="0.75" stroke-dasharray="1.6 1.15"/>
<line x1="20.4" x2="33.6" y1="260.5" y2="260.5" stroke="#7cc8a8" stroke-width="0.75" stroke-dasharray="1.6 1.15"/>
<line x1="20.4" x2="33.6" y1="246.5" y2="246.5" stroke="#7cc8a8" stroke-width="0.75" stroke-dasharray="1.6 1.15"/>
<rect x="20.4" y="235.0" width="13.2" height="80.4" fill="none" stroke="#7cc8a8" stroke-width="0.6"/>
<text x="26.8" y="242.0" font-size="5.1" fill="#1a1a1a" text-anchor="middle" font-weight="bold" textLength="8.9" lengthAdjust="spacingAndGlyphs">247</text>
<rect x="39.6" y="235.0" width="112.0" height="80.4" fill="#fff"/>
<line x1="62.5" x2="62.5" y1="235.0" y2="315.4" stroke="#7cc8a8" stroke-width="0.7"/>
<line x1="84.5" x2="84.5" y1="235.0" y2="315.4" stroke="#7cc8a8" stroke-width="0.7"/>
<line x1="106.5" x2="106.5" y1="235.0" y2="315.4" stroke="#7cc8a8" stroke-width="0.7"/>
<line x1="129.5" x2="129.5" y1="235.0" y2="315.4" stroke="#7cc8a8" stroke-width="0.7"/>
<rect x="40.0" y="235.4" width="43.9" height="22.6" fill="#fff"/>
<line x1="39.6" x2="151.6" y1="301.5" y2="301.5" stroke="#7cc8a8" stroke-width="0.75" stroke-dasharray="1.6 1.15"/>
<line x1="39.6" x2="151.6" y1="287.5" y2="287.5" stroke="#7cc8a8" stroke-width="0.75" stroke-dasharray="1.6 1.15"/>
<line x1="39.6" x2="151.6" y1="274.5" y2="274.5" stroke="#7cc8a8" stroke-width="0.75" stroke-dasharray="1.6 1.15"/>
<line x1="39.6" x2="151.6" y1="260.5" y2="260.5" stroke="#7cc8a8" stroke-width="0.75" stroke-dasharray="1.6 1.15"/>
<line x1="39.6" x2="151.6" y1="246.5" y2="246.5" stroke="#7cc8a8" stroke-width="0.75" stroke-dasharray="1.6 1.15"/>
<polygon points="60.9,315.4 68.0,314.6 75.9,312.4 82.4,309.2 86.4,306.2 90.4,301.7 96.9,290.9 102.5,281.5 107.5,270.8 111.3,264.1 114.0,260.6 115.8,254.7 117.8,248.8 120.0,246.3 123.2,246.0 151.6,245.8 151.6,248.6 123.2,248.7 120.0,249.0 117.8,251.4 115.8,257.1 114.0,262.8 111.3,266.2 107.5,272.6 102.5,283.0 96.9,292.0 90.4,302.4 86.4,306.8 82.4,309.6 75.9,312.7 68.0,314.8 60.9,315.4" fill="#7cc8a8" opacity="0.35"/>
<polyline points="60.9,315.4 68.0,314.7 75.9,312.6 82.4,309.4 86.4,306.5 90.4,302.0 96.9,291.5 102.5,282.3 107.5,271.7 111.3,265.1 114.0,261.7 115.8,255.9 117.8,250.1 120.0,247.6 123.2,247.4 151.6,247.2" fill="none" stroke="#5fb894" stroke-width="1.1" stroke-linejoin="round" stroke-linecap="round"/>
<rect x="39.6" y="235.0" width="112.0" height="80.4" fill="none" stroke="#7cc8a8" stroke-width="0.6"/>
<line x1="44.3" x2="47.1" y1="240.9" y2="240.9" stroke="#5fb894" stroke-width="1.1" stroke-linecap="round"/>
<text x="49.4" y="243.3" font-size="6.7" fill="#222" textLength="32.3" lengthAdjust="spacingAndGlyphs" stroke="#222" stroke-width="0.12">Ens. mean</text>
<line x1="44.3" x2="47.1" y1="252.9" y2="252.9" stroke="#7cc8a8" stroke-width="1.1" stroke-linecap="round" opacity="0.45"/>
<text x="49.4" y="255.3" font-size="6.7" fill="#222" textLength="36.3" lengthAdjust="spacingAndGlyphs" stroke="#222" stroke-width="0.12">Ens. spread</text>
<text x="40.00" y="323.8" font-size="5.9" fill="#2a2a2a" text-anchor="middle" textLength="14.0" lengthAdjust="spacingAndGlyphs">24/09</text>
<text x="62.40" y="323.8" font-size="5.9" fill="#2a2a2a" text-anchor="middle" textLength="14.0" lengthAdjust="spacingAndGlyphs">25/09</text>
<text x="84.80" y="323.8" font-size="5.9" fill="#2a2a2a" text-anchor="middle" textLength="14.0" lengthAdjust="spacingAndGlyphs">26/09</text>
<text x="107.20" y="323.8" font-size="5.9" fill="#2a2a2a" text-anchor="middle" textLength="14.0" lengthAdjust="spacingAndGlyphs">27/09</text>
<text x="129.60" y="323.8" font-size="5.9" fill="#2a2a2a" text-anchor="middle" textLength="14.0" lengthAdjust="spacingAndGlyphs">28/09</text>
<text x="152.00" y="323.8" font-size="5.9" fill="#2a2a2a" text-anchor="middle" textLength="14.0" lengthAdjust="spacingAndGlyphs">29/09</text>
<text x="157.4" y="331.0" font-size="5.2" fill="#222" text-anchor="end" font-weight="bold" textLength="12.0" lengthAdjust="spacingAndGlyphs">Date</text>
</g>
<g transform="translate(166.0 0)">
<rect x="5.5" y="44.3" width="157.3" height="293" rx="8" ry="8" fill="#fff" stroke="#3f6fa6" stroke-width="1.1"/>
<text x="19.4" y="60.2" font-size="9.9" fill="#3f6fa6" font-weight="bold" textLength="37.5" lengthAdjust="spacingAndGlyphs" stroke="#3f6fa6" stroke-width="0.22">PRESENT</text>
<text x="150.3" y="60.2" font-size="9.9" fill="#4d7db3" text-anchor="end" textLength="86.0" lengthAdjust="spacingAndGlyphs" stroke="#4d7db3" stroke-width="0.16">IFS-FESOM Historical</text>
<use href="#mw" x="18.9" y="66.8"/>
<use href="#mg" x="18.9" y="66.8"/>
<use href="#mp" x="18.9" y="66.8"/>
<text x="16.8" y="105.6" font-size="5.2" fill="#222" text-anchor="end" textLength="9.6" lengthAdjust="spacingAndGlyphs">40°N</text>
<text x="16.8" y="144.5" font-size="5.2" fill="#222" text-anchor="end" textLength="9.6" lengthAdjust="spacingAndGlyphs">30°N</text>
<text x="16.8" y="183.6" font-size="5.2" fill="#222" text-anchor="end" textLength="9.6" lengthAdjust="spacingAndGlyphs">20°N</text>
<text x="48.0" y="212.5" font-size="5.2" fill="#222" text-anchor="middle" textLength="13.0" lengthAdjust="spacingAndGlyphs">100°W</text>
<text x="84.9" y="212.5" font-size="5.2" fill="#222" text-anchor="middle" textLength="10.8" lengthAdjust="spacingAndGlyphs">90°W</text>
<text x="123.4" y="212.5" font-size="5.2" fill="#222" text-anchor="middle" textLength="10.8" lengthAdjust="spacingAndGlyphs">80°W</text>
<text x="20.1" y="230.0" font-size="9.0" fill="#222" textLength="113.8" lengthAdjust="spacingAndGlyphs" stroke="#222" stroke-width="0.32">Accumulated precipitation (mm)</text>
<text x="17.2" y="318.15" font-size="5.5" fill="#222" text-anchor="end" textLength="2.62" lengthAdjust="spacingAndGlyphs">0</text>
<text x="17.2" y="304.38" font-size="5.5" fill="#222" text-anchor="end" textLength="5.24" lengthAdjust="spacingAndGlyphs">50</text>
<text x="17.2" y="290.60" font-size="5.5" fill="#222" text-anchor="end" textLength="7.86" lengthAdjust="spacingAndGlyphs">100</text>
<text x="17.2" y="276.82" font-size="5.5" fill="#222" text-anchor="end" textLength="7.86" lengthAdjust="spacingAndGlyphs">150</text>
<text x="17.2" y="263.05" font-size="5.5" fill="#222" text-anchor="end" textLength="7.86" lengthAdjust="spacingAndGlyphs">200</text>
<text x="17.2" y="249.27" font-size="5.5" fill="#222" text-anchor="end" textLength="7.86" lengthAdjust="spacingAndGlyphs">250</text>
<rect x="20.4" y="242.67" width="13.2" height="72.73" fill="#b7c9df"/>
<line x1="20.4" x2="33.6" y1="301.5" y2="301.5" stroke="#3f6fa6" stroke-width="0.75" stroke-dasharray="1.6 1.15"/>
<line x1="20.4" x2="33.6" y1="287.5" y2="287.5" stroke="#3f6fa6" stroke-width="0.75" stroke-dasharray="1.6 1.15"/>
<line x1="20.4" x2="33.6" y1="274.5" y2="274.5" stroke="#3f6fa6" stroke-width="0.75" stroke-dasharray="1.6 1.15"/>
<line x1="20.4" x2="33.6" y1="260.5" y2="260.5" stroke="#3f6fa6" stroke-width="0.75" stroke-dasharray="1.6 1.15"/>
<line x1="20.4" x2="33.6" y1="246.5" y2="246.5" stroke="#3f6fa6" stroke-width="0.75" stroke-dasharray="1.6 1.15"/>
<rect x="20.4" y="235.0" width="13.2" height="80.4" fill="none" stroke="#3f6fa6" stroke-width="0.6"/>
<text x="26.8" y="242.0" font-size="5.1" fill="#1a1a1a" text-anchor="middle" font-weight="bold" textLength="8.9" lengthAdjust="spacingAndGlyphs">264</text>
<rect x="39.6" y="235.0" width="112.0" height="80.4" fill="#fff"/>
<line x1="62.5" x2="62.5" y1="235.0" y2="315.4" stroke="#3f6fa6" stroke-width="0.7"/>
<line x1="84.5" x2="84.5" y1="235.0" y2="315.4" stroke="#3f6fa6" stroke-width="0.7"/>
<line x1="106.5" x2="106.5" y1="235.0" y2="315.4" stroke="#3f6fa6" stroke-width="0.7"/>
<line x1="129.5" x2="129.5" y1="235.0" y2="315.4" stroke="#3f6fa6" stroke-width="0.7"/>
<rect x="40.0" y="235.4" width="43.9" height="22.6" fill="#fff"/>
<line x1="39.6" x2="151.6" y1="301.5" y2="301.5" stroke="#3f6fa6" stroke-width="0.75" stroke-dasharray="1.6 1.15"/>
<line x1="39.6" x2="151.6" y1="287.5" y2="287.5" stroke="#3f6fa6" stroke-width="0.75" stroke-dasharray="1.6 1.15"/>
<line x1="39.6" x2="151.6" y1="274.5" y2="274.5" stroke="#3f6fa6" stroke-width="0.75" stroke-dasharray="1.6 1.15"/>
<line x1="39.6" x2="151.6" y1="260.5" y2="260.5" stroke="#3f6fa6" stroke-width="0.75" stroke-dasharray="1.6 1.15"/>
<line x1="39.6" x2="151.6" y1="246.5" y2="246.5" stroke="#3f6fa6" stroke-width="0.75" stroke-dasharray="1.6 1.15"/>
<polygon points="60.9,315.4 68.0,314.0 75.9,311.5 82.4,307.9 86.4,303.8 90.4,297.5 96.9,283.2 102.5,273.6 107.2,264.0 112.6,255.9 115.8,251.6 117.8,244.8 120.0,239.8 123.2,239.3 151.6,238.3 151.6,245.3 123.2,246.2 120.0,246.7 117.8,251.3 115.8,257.6 112.6,261.4 107.2,268.9 102.5,277.8 96.9,286.6 90.4,299.7 86.4,305.5 82.4,309.3 75.9,312.6 68.0,314.9 60.9,315.4" fill="#3f6fa6" opacity="0.35"/>
<polyline points="60.9,315.4 68.0,314.4 75.9,312.1 82.4,308.6 86.4,304.7 90.4,298.6 96.9,284.9 102.5,275.7 107.2,266.5 112.6,258.6 115.8,254.6 117.8,248.0 120.0,243.3 123.2,242.8 151.6,241.8" fill="none" stroke="#2f5f98" stroke-width="1.1" stroke-linejoin="round" stroke-linecap="round"/>
<rect x="39.6" y="235.0" width="112.0" height="80.4" fill="none" stroke="#3f6fa6" stroke-width="0.6"/>
<line x1="44.3" x2="47.1" y1="240.9" y2="240.9" stroke="#2f5f98" stroke-width="1.1" stroke-linecap="round"/>
<text x="49.4" y="243.3" font-size="6.7" fill="#222" textLength="32.3" lengthAdjust="spacingAndGlyphs" stroke="#222" stroke-width="0.12">Ens. mean</text>
<line x1="44.3" x2="47.1" y1="252.9" y2="252.9" stroke="#3f6fa6" stroke-width="1.1" stroke-linecap="round" opacity="0.45"/>
<text x="49.4" y="255.3" font-size="6.7" fill="#222" textLength="36.3" lengthAdjust="spacingAndGlyphs" stroke="#222" stroke-width="0.12">Ens. spread</text>
<text x="40.00" y="323.8" font-size="5.9" fill="#2a2a2a" text-anchor="middle" textLength="14.0" lengthAdjust="spacingAndGlyphs">24/09</text>
<text x="62.40" y="323.8" font-size="5.9" fill="#2a2a2a" text-anchor="middle" textLength="14.0" lengthAdjust="spacingAndGlyphs">25/09</text>
<text x="84.80" y="323.8" font-size="5.9" fill="#2a2a2a" text-anchor="middle" textLength="14.0" lengthAdjust="spacingAndGlyphs">26/09</text>
<text x="107.20" y="323.8" font-size="5.9" fill="#2a2a2a" text-anchor="middle" textLength="14.0" lengthAdjust="spacingAndGlyphs">27/09</text>
<text x="129.60" y="323.8" font-size="5.9" fill="#2a2a2a" text-anchor="middle" textLength="14.0" lengthAdjust="spacingAndGlyphs">28/09</text>
<text x="152.00" y="323.8" font-size="5.9" fill="#2a2a2a" text-anchor="middle" textLength="14.0" lengthAdjust="spacingAndGlyphs">29/09</text>
<text x="157.4" y="331.0" font-size="5.2" fill="#222" text-anchor="end" font-weight="bold" textLength="12.0" lengthAdjust="spacingAndGlyphs">Date</text>
</g>
<g transform="translate(332.0 0)">
<rect x="5.5" y="44.3" width="157.3" height="293" rx="8" ry="8" fill="#fff" stroke="#d69a73" stroke-width="1.1"/>
<text x="19.4" y="60.2" font-size="9.9" fill="#d69a73" font-weight="bold" textLength="30.6" lengthAdjust="spacingAndGlyphs" stroke="#d69a73" stroke-width="0.22">FUTURE</text>
<text x="149.4" y="60.2" font-size="9.9" fill="#dca987" text-anchor="end" textLength="63.7" lengthAdjust="spacingAndGlyphs" stroke="#dca987" stroke-width="0.16">IFS-FESOM +2K</text>
<use href="#mw" x="18.9" y="66.8"/>
<use href="#mg" x="18.9" y="66.8"/>
<use href="#mp" x="18.9" y="66.8"/>
<text x="16.8" y="105.6" font-size="5.2" fill="#222" text-anchor="end" textLength="9.6" lengthAdjust="spacingAndGlyphs">40°N</text>
<text x="16.8" y="144.5" font-size="5.2" fill="#222" text-anchor="end" textLength="9.6" lengthAdjust="spacingAndGlyphs">30°N</text>
<text x="16.8" y="183.6" font-size="5.2" fill="#222" text-anchor="end" textLength="9.6" lengthAdjust="spacingAndGlyphs">20°N</text>
<text x="48.0" y="212.5" font-size="5.2" fill="#222" text-anchor="middle" textLength="13.0" lengthAdjust="spacingAndGlyphs">100°W</text>
<text x="84.9" y="212.5" font-size="5.2" fill="#222" text-anchor="middle" textLength="10.8" lengthAdjust="spacingAndGlyphs">90°W</text>
<text x="123.4" y="212.5" font-size="5.2" fill="#222" text-anchor="middle" textLength="10.8" lengthAdjust="spacingAndGlyphs">80°W</text>
<text x="20.1" y="230.0" font-size="9.0" fill="#222" textLength="113.8" lengthAdjust="spacingAndGlyphs" stroke="#222" stroke-width="0.32">Accumulated precipitation (mm)</text>
<text x="17.2" y="318.15" font-size="5.5" fill="#222" text-anchor="end" textLength="2.62" lengthAdjust="spacingAndGlyphs">0</text>
<text x="17.2" y="304.38" font-size="5.5" fill="#222" text-anchor="end" textLength="5.24" lengthAdjust="spacingAndGlyphs">50</text>
<text x="17.2" y="290.60" font-size="5.5" fill="#222" text-anchor="end" textLength="7.86" lengthAdjust="spacingAndGlyphs">100</text>
<text x="17.2" y="276.82" font-size="5.5" fill="#222" text-anchor="end" textLength="7.86" lengthAdjust="spacingAndGlyphs">150</text>
<text x="17.2" y="263.05" font-size="5.5" fill="#222" text-anchor="end" textLength="7.86" lengthAdjust="spacingAndGlyphs">200</text>
<text x="17.2" y="249.27" font-size="5.5" fill="#222" text-anchor="end" textLength="7.86" lengthAdjust="spacingAndGlyphs">250</text>
<rect x="20.4" y="240.74" width="13.2" height="74.66" fill="#f0d5c3"/>
<line x1="20.4" x2="33.6" y1="301.5" y2="301.5" stroke="#d69a73" stroke-width="0.75" stroke-dasharray="1.6 1.15"/>
<line x1="20.4" x2="33.6" y1="287.5" y2="287.5" stroke="#d69a73" stroke-width="0.75" stroke-dasharray="1.6 1.15"/>
<line x1="20.4" x2="33.6" y1="274.5" y2="274.5" stroke="#d69a73" stroke-width="0.75" stroke-dasharray="1.6 1.15"/>
<line x1="20.4" x2="33.6" y1="260.5" y2="260.5" stroke="#d69a73" stroke-width="0.75" stroke-dasharray="1.6 1.15"/>
<line x1="20.4" x2="33.6" y1="246.5" y2="246.5" stroke="#d69a73" stroke-width="0.75" stroke-dasharray="1.6 1.15"/>
<rect x="20.4" y="235.0" width="13.2" height="80.4" fill="none" stroke="#d69a73" stroke-width="0.6"/>
<text x="26.8" y="242.0" font-size="5.1" fill="#1a1a1a" text-anchor="middle" font-weight="bold" textLength="8.9" lengthAdjust="spacingAndGlyphs">271</text>
<rect x="39.6" y="235.0" width="112.0" height="80.4" fill="#fff"/>
<line x1="62.5" x2="62.5" y1="235.0" y2="315.4" stroke="#d69a73" stroke-width="0.7"/>
<line x1="84.5" x2="84.5" y1="235.0" y2="315.4" stroke="#d69a73" stroke-width="0.7"/>
<line x1="106.5" x2="106.5" y1="235.0" y2="315.4" stroke="#d69a73" stroke-width="0.7"/>
<line x1="129.5" x2="129.5" y1="235.0" y2="315.4" stroke="#d69a73" stroke-width="0.7"/>
<rect x="40.0" y="235.4" width="43.9" height="22.6" fill="#fff"/>
<line x1="39.6" x2="151.6" y1="301.5" y2="301.5" stroke="#d69a73" stroke-width="0.75" stroke-dasharray="1.6 1.15"/>
<line x1="39.6" x2="151.6" y1="287.5" y2="287.5" stroke="#d69a73" stroke-width="0.75" stroke-dasharray="1.6 1.15"/>
<line x1="39.6" x2="151.6" y1="274.5" y2="274.5" stroke="#d69a73" stroke-width="0.75" stroke-dasharray="1.6 1.15"/>
<line x1="39.6" x2="151.6" y1="260.5" y2="260.5" stroke="#d69a73" stroke-width="0.75" stroke-dasharray="1.6 1.15"/>
<line x1="39.6" x2="151.6" y1="246.5" y2="246.5" stroke="#d69a73" stroke-width="0.75" stroke-dasharray="1.6 1.15"/>
<polygon points="60.9,315.4 67.6,314.1 75.4,311.4 81.8,307.4 86.0,302.8 89.6,296.0 96.5,281.2 102.1,271.7 107.0,262.2 112.2,254.1 115.3,248.8 117.4,242.0 119.3,239.3 122.7,238.5 151.6,238.0 151.6,242.3 122.7,242.7 119.3,243.5 117.4,246.1 115.3,252.6 112.2,257.7 107.0,265.4 102.1,274.4 96.5,283.4 89.6,297.5 86.0,303.9 81.8,308.3 75.4,312.2 67.6,314.7 60.9,315.4" fill="#d69a73" opacity="0.35"/>
<polyline points="60.9,315.4 67.6,314.4 75.4,311.8 81.8,307.9 86.0,303.4 89.6,296.7 96.5,282.3 102.1,273.0 107.0,263.8 112.2,255.9 115.3,250.7 117.4,244.0 119.3,241.4 122.7,240.6 151.6,240.2" fill="none" stroke="#cf8c60" stroke-width="1.1" stroke-linejoin="round" stroke-linecap="round"/>
<rect x="39.6" y="235.0" width="112.0" height="80.4" fill="none" stroke="#d69a73" stroke-width="0.6"/>
<line x1="44.3" x2="47.1" y1="240.9" y2="240.9" stroke="#cf8c60" stroke-width="1.1" stroke-linecap="round"/>
<text x="49.4" y="243.3" font-size="6.7" fill="#222" textLength="32.3" lengthAdjust="spacingAndGlyphs" stroke="#222" stroke-width="0.12">Ens. mean</text>
<line x1="44.3" x2="47.1" y1="252.9" y2="252.9" stroke="#d69a73" stroke-width="1.1" stroke-linecap="round" opacity="0.45"/>
<text x="49.4" y="255.3" font-size="6.7" fill="#222" textLength="36.3" lengthAdjust="spacingAndGlyphs" stroke="#222" stroke-width="0.12">Ens. spread</text>
<text x="40.00" y="323.8" font-size="5.9" fill="#2a2a2a" text-anchor="middle" textLength="14.0" lengthAdjust="spacingAndGlyphs">24/09</text>
<text x="62.40" y="323.8" font-size="5.9" fill="#2a2a2a" text-anchor="middle" textLength="14.0" lengthAdjust="spacingAndGlyphs">25/09</text>
<text x="84.80" y="323.8" font-size="5.9" fill="#2a2a2a" text-anchor="middle" textLength="14.0" lengthAdjust="spacingAndGlyphs">26/09</text>
<text x="107.20" y="323.8" font-size="5.9" fill="#2a2a2a" text-anchor="middle" textLength="14.0" lengthAdjust="spacingAndGlyphs">27/09</text>
<text x="129.60" y="323.8" font-size="5.9" fill="#2a2a2a" text-anchor="middle" textLength="14.0" lengthAdjust="spacingAndGlyphs">28/09</text>
<text x="152.00" y="323.8" font-size="5.9" fill="#2a2a2a" text-anchor="middle" textLength="14.0" lengthAdjust="spacingAndGlyphs">29/09</text>
<text x="157.4" y="331.0" font-size="5.2" fill="#222" text-anchor="end" font-weight="bold" textLength="12.0" lengthAdjust="spacingAndGlyphs">Date</text>
</g>
</svg>
</body></html>
